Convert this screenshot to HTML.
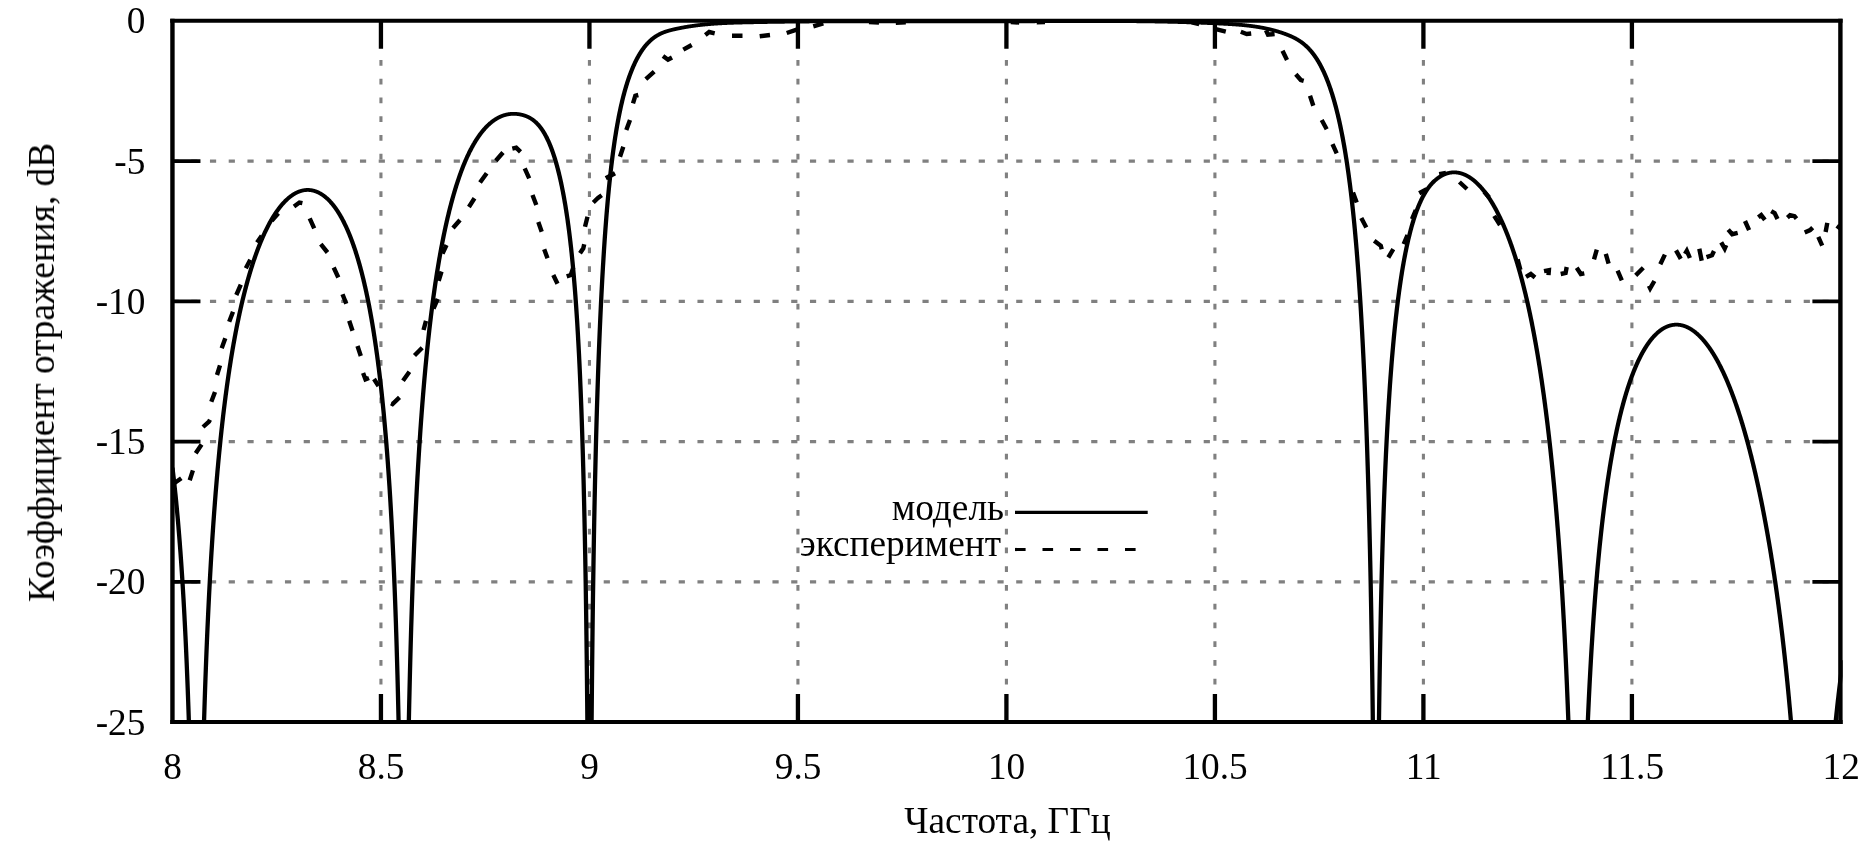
<!DOCTYPE html>
<html><head><meta charset="utf-8"><title>chart</title>
<style>html,body{margin:0;padding:0;background:#fff;overflow:hidden}body{width:1872px;height:858px;font-family:"Liberation Serif",serif}</style>
</head><body>
<svg width="1872" height="858" viewBox="0 0 1872 858" style="display:block">
<rect width="1872" height="858" fill="#fff"/>
<defs><clipPath id="c"><rect x="172.45" y="20.85" width="1670.15" height="701.25"/></clipPath></defs>
<path d="M380.94 722.10 V20.85 M589.44 722.10 V20.85 M797.93 722.10 V20.85 M1006.42 722.10 V20.85 M1214.92 722.10 V20.85 M1423.41 722.10 V20.85 M1631.91 722.10 V20.85" fill="none" stroke="#808080" stroke-width="3.1" stroke-dasharray="5.9 12.85"/>
<path d="M172.45 161.10 H1840.40 M172.45 301.35 H1840.40 M172.45 441.60 H1840.40 M172.45 581.85 H1840.40" fill="none" stroke="#808080" stroke-width="3.3" stroke-dasharray="6.2 12.55"/>
<path d="M170.25 20.85 H1842.60 M170.25 722.10 H1842.60" fill="none" stroke="#000" stroke-width="4.00"/>
<path d="M172.45 18.85 V724.10 M1840.40 18.85 V724.10" fill="none" stroke="#000" stroke-width="4.40"/>
<path d="M380.94 722.10 v-28.00 M380.94 20.85 v28.00 M589.44 722.10 v-28.00 M589.44 20.85 v28.00 M797.93 722.10 v-28.00 M797.93 20.85 v28.00 M1006.42 722.10 v-28.00 M1006.42 20.85 v28.00 M1214.92 722.10 v-28.00 M1214.92 20.85 v28.00 M1423.41 722.10 v-28.00 M1423.41 20.85 v28.00 M1631.91 722.10 v-28.00 M1631.91 20.85 v28.00" fill="none" stroke="#000" stroke-width="4.3"/>
<path d="M172.45 161.10 h28.00 M1840.40 161.10 h-28.00 M172.45 301.35 h28.00 M1840.40 301.35 h-28.00 M172.45 441.60 h28.00 M1840.40 441.60 h-28.00 M172.45 581.85 h28.00 M1840.40 581.85 h-28.00" fill="none" stroke="#000" stroke-width="3.8"/>
<g clip-path="url(#c)"><g transform="scale(1.1300 1)" fill="none" stroke="#000" stroke-width="3.80" stroke-linejoin="round">
<path d="M152.61 467.71 L152.83 469.76 L153.05 471.84 L153.27 473.95 L153.50 476.09 L153.72 478.27 L153.94 480.48 L154.16 482.72 L154.38 485.00 L154.60 487.31 L154.82 489.66 L155.04 492.05 L155.27 494.47 L155.49 496.93 L155.71 499.43 L155.93 501.97 L156.15 504.55 L156.37 507.17 L156.59 509.84 L156.81 512.54 L157.04 515.30 L157.26 518.09 L157.48 520.94 L157.70 523.83 L157.92 526.77 L158.14 529.76 L158.36 532.80 L158.58 535.89 L158.81 539.04 L159.03 542.25 L159.25 545.51 L159.47 548.83 L159.69 552.21 L159.91 555.65 L160.13 559.16 L160.35 562.73 L160.58 566.37 L160.80 570.08 L161.02 573.86 L161.24 577.72 L161.46 581.65 L161.68 585.66 L161.90 589.76 L162.12 593.94 L162.35 598.21 L162.57 602.57 L162.79 607.03 L163.01 611.58 L163.23 616.24 L163.45 621.00 L163.67 625.88 L163.89 630.87 L164.12 635.98 L164.34 641.22 L164.56 646.59 L164.78 652.10 L165.00 657.75 L165.22 663.55 L165.44 669.51 L165.66 675.64 L165.88 681.94 L166.11 688.43 L166.33 695.12 L166.55 702.01 L166.77 709.12 L166.99 716.47 L167.21 724.06 L167.43 731.92 L167.65 740.05 L167.88 748.49 L168.10 757.26"/>
<path d="M179.82 751.05 L180.04 741.93 L180.27 733.14 L180.49 724.65 L180.71 716.44 L180.93 708.50 L181.15 700.82 L181.37 693.36 L181.59 686.13 L181.81 679.11 L182.04 672.28 L182.26 665.64 L182.48 659.18 L182.70 652.89 L182.92 646.75 L183.14 640.77 L183.36 634.94 L183.58 629.24 L183.81 623.67 L184.03 618.23 L184.25 612.91 L184.47 607.71 L184.69 602.62 L184.91 597.63 L185.13 592.75 L185.35 587.97 L185.58 583.28 L185.80 578.69 L186.02 574.18 L186.24 569.76 L186.46 565.42 L186.68 561.15 L186.90 556.97 L187.12 552.86 L187.35 548.82 L187.57 544.86 L187.79 540.96 L188.01 537.12 L188.23 533.35 L188.45 529.64 L188.67 525.99 L188.89 522.40 L189.12 518.86 L189.34 515.38 L189.56 511.96 L189.78 508.58 L190.00 505.26 L190.22 501.98 L190.44 498.76 L190.66 495.58 L190.88 492.44 L191.11 489.35 L191.33 486.31 L191.55 483.31 L191.77 480.35 L191.99 477.43 L192.21 474.54 L192.43 471.70 L192.65 468.90 L192.88 466.13 L193.10 463.40 L193.32 460.71 L193.54 458.05 L193.76 455.42 L193.98 452.83 L194.20 450.27 L194.42 447.74 L194.65 445.25 L194.87 442.78 L195.09 440.35 L195.31 437.94 L195.53 435.57 L195.75 433.22 L195.97 430.90 L196.19 428.61 L196.42 426.35 L196.64 424.11 L196.86 421.90 L197.08 419.71 L197.30 417.55 L197.52 415.42 L197.74 413.31 L197.96 411.22 L198.19 409.16 L198.41 407.11 L198.63 405.09 L198.85 403.10 L199.07 401.12 L199.29 399.17 L199.51 397.23 L199.73 395.32 L199.96 393.43 L200.18 391.55 L200.40 389.70 L200.62 387.86 L200.84 386.05 L201.06 384.25 L201.28 382.47 L201.50 380.71 L201.73 378.97 L201.95 377.24 L202.17 375.53 L202.39 373.84 L202.61 372.16 L202.83 370.50 L203.05 368.85 L203.27 367.23 L203.50 365.61 L203.72 364.01 L203.94 362.43 L204.16 360.86 L204.38 359.31 L204.60 357.77 L204.82 356.25 L205.04 354.73 L205.27 353.24 L205.49 351.75 L205.71 350.28 L205.93 348.83 L206.15 347.38 L206.37 345.95 L206.59 344.53 L206.81 343.13 L207.04 341.73 L207.26 340.35 L207.48 338.98 L207.70 337.63 L207.92 336.28 L208.14 334.95 L208.36 333.62 L208.58 332.31 L208.81 331.01 L209.03 329.72 L209.25 328.44 L209.47 327.18 L209.69 325.92 L209.91 324.67 L210.13 323.44 L210.35 322.21 L210.58 320.99 L210.80 319.79 L211.02 318.59 L211.24 317.41 L211.46 316.23 L211.68 315.06 L211.90 313.90 L212.12 312.76 L212.35 311.62 L212.57 310.49 L212.79 309.37 L213.01 308.25 L213.23 307.15 L213.45 306.06 L213.67 304.97 L213.89 303.89 L214.12 302.83 L214.34 301.77 L214.56 300.71 L214.78 299.67 L215.00 298.63 L215.22 297.61 L215.44 296.59 L215.66 295.57 L215.88 294.57 L216.11 293.57 L216.33 292.59 L216.55 291.61 L216.77 290.63 L216.99 289.67 L217.21 288.71 L217.43 287.76 L217.65 286.81 L217.88 285.87 L218.10 284.94 L218.32 284.02 L218.54 283.11 L218.76 282.20 L218.98 281.30 L219.20 280.40 L219.42 279.51 L219.65 278.63 L219.87 277.75 L220.09 276.89 L220.31 276.02 L220.53 275.17 L220.75 274.32 L220.97 273.47 L221.19 272.64 L221.42 271.81 L221.64 270.98 L221.86 270.16 L222.08 269.35 L222.30 268.54 L222.52 267.74 L222.74 266.95 L222.96 266.16 L223.19 265.38 L223.41 264.60 L223.63 263.83 L223.85 263.07 L224.07 262.31 L224.29 261.55 L224.51 260.80 L224.73 260.06 L224.96 259.32 L225.18 258.59 L225.40 257.86 L225.62 257.14 L225.84 256.42 L226.06 255.71 L226.28 255.01 L226.50 254.31 L226.73 253.61 L226.95 252.92 L227.17 252.24 L227.39 251.56 L227.61 250.88 L227.83 250.21 L228.05 249.55 L228.27 248.89 L228.50 248.23 L228.72 247.58 L228.94 246.94 L229.16 246.29 L229.38 245.66 L229.60 245.03 L229.82 244.40 L230.04 243.78 L230.27 243.16 L230.49 242.55 L230.71 241.94 L230.93 241.34 L231.15 240.74 L231.37 240.14 L231.59 239.55 L231.81 238.97 L232.04 238.39 L232.26 237.81 L232.48 237.24 L232.70 236.67 L232.92 236.11 L233.14 235.55 L233.36 234.99 L233.58 234.44 L233.81 233.89 L234.03 233.35 L234.25 232.81 L234.47 232.28 L234.69 231.75 L234.91 231.22 L235.13 230.70 L235.35 230.18 L235.58 229.67 L235.80 229.16 L236.02 228.65 L236.24 228.15 L236.46 227.65 L236.68 227.16 L236.90 226.67 L237.12 226.18 L237.35 225.70 L237.57 225.22 L237.79 224.75 L238.01 224.28 L238.23 223.81 L238.45 223.35 L238.67 222.89 L238.89 222.43 L239.12 221.98 L239.34 221.53 L239.56 221.09 L239.78 220.64 L240.00 220.21 L240.22 219.77 L240.44 219.34 L240.66 218.92 L240.88 218.49 L241.11 218.07 L241.33 217.66 L241.55 217.25 L241.77 216.84 L241.99 216.43 L242.21 216.03 L242.43 215.63 L242.65 215.24 L242.88 214.85 L243.10 214.46 L243.32 214.08 L243.54 213.69 L243.76 213.32 L243.98 212.94 L244.20 212.57 L244.42 212.20 L244.65 211.84 L244.87 211.48 L245.09 211.12 L245.31 210.77 L245.53 210.42 L245.75 210.07 L245.97 209.73 L246.19 209.38 L246.42 209.05 L246.64 208.71 L246.86 208.38 L247.08 208.05 L247.30 207.73 L247.52 207.41 L247.74 207.09 L247.96 206.77 L248.19 206.46 L248.41 206.15 L248.63 205.85 L248.85 205.54 L249.07 205.24 L249.29 204.95 L249.51 204.65 L249.73 204.36 L249.96 204.08 L250.18 203.79 L250.40 203.51 L250.62 203.23 L250.84 202.96 L251.06 202.69 L251.28 202.42 L251.50 202.15 L251.73 201.89 L251.95 201.63 L252.17 201.37 L252.39 201.12 L252.61 200.87 L252.83 200.62 L253.05 200.38 L253.27 200.14 L253.50 199.90 L253.72 199.66 L253.94 199.43 L254.16 199.20 L254.38 198.97 L254.60 198.75 L254.82 198.53 L255.04 198.31 L255.27 198.09 L255.49 197.88 L255.71 197.67 L255.93 197.46 L256.15 197.26 L256.37 197.06 L256.59 196.86 L256.81 196.67 L257.04 196.47 L257.26 196.28 L257.48 196.10 L257.70 195.91 L257.92 195.73 L258.14 195.56 L258.36 195.38 L258.58 195.21 L258.81 195.04 L259.03 194.87 L259.25 194.71 L259.47 194.55 L259.69 194.39 L259.91 194.23 L260.13 194.08 L260.35 193.93 L260.58 193.79 L260.80 193.64 L261.02 193.50 L261.24 193.36 L261.46 193.23 L261.68 193.09 L261.90 192.96 L262.12 192.84 L262.35 192.71 L262.57 192.59 L262.79 192.47 L263.01 192.35 L263.23 192.24 L263.45 192.13 L263.67 192.02 L263.89 191.92 L264.12 191.81 L264.34 191.71 L264.56 191.62 L264.78 191.52 L265.00 191.43 L265.22 191.34 L265.44 191.26 L265.66 191.17 L265.88 191.09 L266.11 191.01 L266.33 190.94 L266.55 190.87 L266.77 190.80 L266.99 190.73 L267.21 190.67 L267.43 190.60 L267.65 190.55 L267.88 190.49 L268.10 190.44 L268.32 190.39 L268.54 190.34 L268.76 190.29 L268.98 190.25 L269.20 190.21 L269.42 190.17 L269.65 190.14 L269.87 190.11 L270.09 190.08 L270.31 190.06 L270.53 190.03 L270.75 190.01 L270.97 189.99 L271.19 189.98 L271.42 189.97 L271.64 189.96 L271.86 189.95 L272.08 189.95 L272.30 189.95 L272.52 189.95 L272.74 189.95 L272.96 189.96 L273.19 189.97 L273.41 189.98 L273.63 190.00 L273.85 190.01 L274.07 190.04 L274.29 190.06 L274.51 190.09 L274.73 190.11 L274.96 190.15 L275.18 190.18 L275.40 190.22 L275.62 190.26 L275.84 190.30 L276.06 190.35 L276.28 190.40 L276.50 190.45 L276.73 190.50 L276.95 190.56 L277.17 190.62 L277.39 190.68 L277.61 190.75 L277.83 190.81 L278.05 190.89 L278.27 190.96 L278.50 191.04 L278.72 191.12 L278.94 191.20 L279.16 191.28 L279.38 191.37 L279.60 191.46 L279.82 191.55 L280.04 191.65 L280.27 191.75 L280.49 191.85 L280.71 191.96 L280.93 192.07 L281.15 192.18 L281.37 192.29 L281.59 192.41 L281.81 192.53 L282.04 192.65 L282.26 192.77 L282.48 192.90 L282.70 193.03 L282.92 193.17 L283.14 193.30 L283.36 193.44 L283.58 193.59 L283.81 193.73 L284.03 193.88 L284.25 194.03 L284.47 194.19 L284.69 194.35 L284.91 194.51 L285.13 194.67 L285.35 194.84 L285.58 195.01 L285.80 195.18 L286.02 195.36 L286.24 195.54 L286.46 195.72 L286.68 195.91 L286.90 196.10 L287.12 196.29 L287.35 196.48 L287.57 196.68 L287.79 196.88 L288.01 197.09 L288.23 197.30 L288.45 197.51 L288.67 197.72 L288.89 197.94 L289.12 198.16 L289.34 198.38 L289.56 198.61 L289.78 198.84 L290.00 199.08 L290.22 199.32 L290.44 199.56 L290.66 199.80 L290.88 200.05 L291.11 200.30 L291.33 200.56 L291.55 200.81 L291.77 201.07 L291.99 201.34 L292.21 201.61 L292.43 201.88 L292.65 202.16 L292.88 202.44 L293.10 202.72 L293.32 203.01 L293.54 203.30 L293.76 203.59 L293.98 203.89 L294.20 204.19 L294.42 204.49 L294.65 204.80 L294.87 205.11 L295.09 205.43 L295.31 205.75 L295.53 206.07 L295.75 206.40 L295.97 206.73 L296.19 207.06 L296.42 207.40 L296.64 207.75 L296.86 208.09 L297.08 208.44 L297.30 208.80 L297.52 209.16 L297.74 209.52 L297.96 209.89 L298.19 210.26 L298.41 210.63 L298.63 211.01 L298.85 211.39 L299.07 211.78 L299.29 212.17 L299.51 212.57 L299.73 212.97 L299.96 213.37 L300.18 213.78 L300.40 214.19 L300.62 214.61 L300.84 215.03 L301.06 215.45 L301.28 215.88 L301.50 216.32 L301.73 216.76 L301.95 217.20 L302.17 217.65 L302.39 218.10 L302.61 218.56 L302.83 219.02 L303.05 219.49 L303.27 219.96 L303.50 220.43 L303.72 220.91 L303.94 221.40 L304.16 221.89 L304.38 222.38 L304.60 222.88 L304.82 223.39 L305.04 223.90 L305.27 224.41 L305.49 224.93 L305.71 225.46 L305.93 225.99 L306.15 226.52 L306.37 227.06 L306.59 227.61 L306.81 228.16 L307.04 228.71 L307.26 229.27 L307.48 229.84 L307.70 230.41 L307.92 230.99 L308.14 231.57 L308.36 232.16 L308.58 232.76 L308.81 233.36 L309.03 233.96 L309.25 234.57 L309.47 235.19 L309.69 235.81 L309.91 236.44 L310.13 237.08 L310.35 237.72 L310.58 238.36 L310.80 239.02 L311.02 239.67 L311.24 240.34 L311.46 241.01 L311.68 241.69 L311.90 242.37 L312.12 243.06 L312.35 243.76 L312.57 244.46 L312.79 245.17 L313.01 245.88 L313.23 246.61 L313.45 247.34 L313.67 248.07 L313.89 248.82 L314.12 249.57 L314.34 250.32 L314.56 251.09 L314.78 251.86 L315.00 252.64 L315.22 253.42 L315.44 254.21 L315.66 255.01 L315.88 255.82 L316.11 256.64 L316.33 257.46 L316.55 258.29 L316.77 259.13 L316.99 259.98 L317.21 260.83 L317.43 261.69 L317.65 262.56 L317.88 263.44 L318.10 264.33 L318.32 265.22 L318.54 266.12 L318.76 267.04 L318.98 267.96 L319.20 268.88 L319.42 269.82 L319.65 270.77 L319.87 271.72 L320.09 272.69 L320.31 273.66 L320.53 274.65 L320.75 275.64 L320.97 276.64 L321.19 277.65 L321.42 278.67 L321.64 279.71 L321.86 280.75 L322.08 281.80 L322.30 282.86 L322.52 283.93 L322.74 285.01 L322.96 286.11 L323.19 287.21 L323.41 288.32 L323.63 289.45 L323.85 290.58 L324.07 291.73 L324.29 292.89 L324.51 294.06 L324.73 295.24 L324.96 296.44 L325.18 297.64 L325.40 298.86 L325.62 300.09 L325.84 301.33 L326.06 302.59 L326.28 303.86 L326.50 305.14 L326.73 306.43 L326.95 307.74 L327.17 309.06 L327.39 310.40 L327.61 311.74 L327.83 313.11 L328.05 314.48 L328.27 315.88 L328.50 317.28 L328.72 318.70 L328.94 320.14 L329.16 321.59 L329.38 323.06 L329.60 324.54 L329.82 326.04 L330.04 327.56 L330.27 329.09 L330.49 330.64 L330.71 332.21 L330.93 333.79 L331.15 335.40 L331.37 337.02 L331.59 338.65 L331.81 340.31 L332.04 341.99 L332.26 343.68 L332.48 345.40 L332.70 347.13 L332.92 348.89 L333.14 350.67 L333.36 352.46 L333.58 354.28 L333.81 356.12 L334.03 357.99 L334.25 359.87 L334.47 361.78 L334.69 363.71 L334.91 365.67 L335.13 367.65 L335.35 369.66 L335.58 371.69 L335.80 373.74 L336.02 375.83 L336.24 377.94 L336.46 380.08 L336.68 382.24 L336.90 384.44 L337.12 386.66 L337.35 388.92 L337.57 391.21 L337.79 393.52 L338.01 395.87 L338.23 398.25 L338.45 400.67 L338.67 403.12 L338.89 405.61 L339.12 408.13 L339.34 410.69 L339.56 413.28 L339.78 415.92 L340.00 418.59 L340.22 421.31 L340.44 424.07 L340.66 426.87 L340.88 429.71 L341.11 432.60 L341.33 435.54 L341.55 438.52 L341.77 441.56 L341.99 444.64 L342.21 447.78 L342.43 450.97 L342.65 454.22 L342.88 457.52 L343.10 460.88 L343.32 464.30 L343.54 467.79 L343.76 471.33 L343.98 474.95 L344.20 478.63 L344.42 482.39 L344.65 486.22 L344.87 490.12 L345.09 494.11 L345.31 498.18 L345.53 502.33 L345.75 506.57 L345.97 510.90 L346.19 515.33 L346.42 519.85 L346.64 524.48 L346.86 529.22 L347.08 534.07 L347.30 539.03 L347.52 544.12 L347.74 549.34 L347.96 554.69 L348.19 560.18 L348.41 565.82 L348.63 571.61 L348.85 577.57 L349.07 583.69 L349.29 589.99 L349.51 596.48 L349.73 603.17 L349.96 610.07 L350.18 617.19 L350.40 624.55 L350.62 632.16 L350.84 640.04 L351.06 648.21 L351.28 656.69 L351.50 665.49 L351.73 674.65 L351.95 684.19 L352.17 694.15 L352.39 704.56 L352.61 715.46 L352.83 726.90 L353.05 738.94 L353.27 751.63"/>
<path d="M361.24 754.70 L361.46 741.17 L361.68 728.34 L361.90 716.15 L362.12 704.53 L362.35 693.44 L362.57 682.82 L362.79 672.65 L363.01 662.87 L363.23 653.48 L363.45 644.43 L363.67 635.70 L363.89 627.27 L364.12 619.12 L364.34 611.24 L364.56 603.60 L364.78 596.19 L365.00 589.00 L365.22 582.02 L365.44 575.24 L365.66 568.64 L365.88 562.21 L366.11 555.95 L366.33 549.85 L366.55 543.90 L366.77 538.09 L366.99 532.42 L367.21 526.89 L367.43 521.47 L367.65 516.18 L367.88 511.01 L368.10 505.94 L368.32 500.98 L368.54 496.12 L368.76 491.37 L368.98 486.70 L369.20 482.13 L369.42 477.64 L369.65 473.24 L369.87 468.93 L370.09 464.69 L370.31 460.53 L370.53 456.44 L370.75 452.42 L370.97 448.48 L371.19 444.60 L371.42 440.79 L371.64 437.04 L371.86 433.35 L372.08 429.72 L372.30 426.15 L372.52 422.64 L372.74 419.18 L372.96 415.78 L373.19 412.43 L373.41 409.13 L373.63 405.88 L373.85 402.67 L374.07 399.52 L374.29 396.41 L374.51 393.34 L374.73 390.32 L374.96 387.34 L375.18 384.41 L375.40 381.51 L375.62 378.66 L375.84 375.84 L376.06 373.06 L376.28 370.32 L376.50 367.62 L376.73 364.95 L376.95 362.32 L377.17 359.72 L377.39 357.16 L377.61 354.63 L377.83 352.13 L378.05 349.66 L378.27 347.23 L378.50 344.82 L378.72 342.45 L378.94 340.11 L379.16 337.79 L379.38 335.50 L379.60 333.24 L379.82 331.01 L380.04 328.81 L380.27 326.63 L380.49 324.48 L380.71 322.36 L380.93 320.26 L381.15 318.18 L381.37 316.13 L381.59 314.10 L381.81 312.09 L382.04 310.11 L382.26 308.15 L382.48 306.22 L382.70 304.30 L382.92 302.40 L383.14 300.53 L383.36 298.68 L383.58 296.84 L383.81 295.03 L384.03 293.24 L384.25 291.46 L384.47 289.70 L384.69 287.97 L384.91 286.25 L385.13 284.55 L385.35 282.86 L385.58 281.19 L385.80 279.54 L386.02 277.91 L386.24 276.30 L386.46 274.70 L386.68 273.11 L386.90 271.54 L387.12 269.99 L387.35 268.45 L387.57 266.93 L387.79 265.42 L388.01 263.93 L388.23 262.45 L388.45 260.99 L388.67 259.54 L388.89 258.10 L389.12 256.68 L389.34 255.27 L389.56 253.87 L389.78 252.49 L390.00 251.12 L390.22 249.77 L390.44 248.42 L390.66 247.09 L390.88 245.77 L391.11 244.46 L391.33 243.17 L391.55 241.88 L391.77 240.61 L391.99 239.35 L392.21 238.10 L392.43 236.86 L392.65 235.64 L392.88 234.42 L393.10 233.22 L393.32 232.02 L393.54 230.84 L393.76 229.67 L393.98 228.50 L394.20 227.35 L394.42 226.21 L394.65 225.08 L394.87 223.95 L395.09 222.84 L395.31 221.74 L395.53 220.64 L395.75 219.56 L395.97 218.48 L396.19 217.42 L396.42 216.36 L396.64 215.32 L396.86 214.28 L397.08 213.25 L397.30 212.23 L397.52 211.22 L397.74 210.21 L397.96 209.22 L398.19 208.23 L398.41 207.25 L398.63 206.28 L398.85 205.32 L399.07 204.37 L399.29 203.42 L399.51 202.49 L399.73 201.56 L399.96 200.63 L400.18 199.72 L400.40 198.81 L400.62 197.91 L400.84 197.02 L401.06 196.14 L401.28 195.26 L401.50 194.39 L401.73 193.53 L401.95 192.68 L402.17 191.83 L402.39 190.99 L402.61 190.15 L402.83 189.33 L403.05 188.51 L403.27 187.69 L403.50 186.89 L403.72 186.09 L403.94 185.30 L404.16 184.51 L404.38 183.73 L404.60 182.96 L404.82 182.19 L405.04 181.43 L405.27 180.68 L405.49 179.93 L405.71 179.19 L405.93 178.45 L406.15 177.72 L406.37 177.00 L406.59 176.28 L406.81 175.57 L407.04 174.87 L407.26 174.17 L407.48 173.47 L407.70 172.79 L407.92 172.10 L408.14 171.43 L408.36 170.76 L408.58 170.09 L408.81 169.43 L409.03 168.78 L409.25 168.13 L409.47 167.49 L409.69 166.85 L409.91 166.22 L410.13 165.60 L410.35 164.98 L410.58 164.36 L410.80 163.75 L411.02 163.15 L411.24 162.55 L411.46 161.95 L411.68 161.36 L411.90 160.78 L412.12 160.20 L412.35 159.63 L412.57 159.06 L412.79 158.49 L413.01 157.93 L413.23 157.38 L413.45 156.83 L413.67 156.29 L413.89 155.75 L414.12 155.21 L414.34 154.68 L414.56 154.16 L414.78 153.64 L415.00 153.12 L415.22 152.61 L415.44 152.10 L415.66 151.60 L415.88 151.10 L416.11 150.61 L416.33 150.12 L416.55 149.63 L416.77 149.15 L416.99 148.67 L417.21 148.20 L417.43 147.74 L417.65 147.27 L417.88 146.81 L418.10 146.36 L418.32 145.91 L418.54 145.46 L418.76 145.02 L418.98 144.58 L419.20 144.14 L419.42 143.71 L419.65 143.29 L419.87 142.86 L420.09 142.44 L420.31 142.03 L420.53 141.62 L420.75 141.21 L420.97 140.81 L421.19 140.41 L421.42 140.01 L421.64 139.62 L421.86 139.23 L422.08 138.85 L422.30 138.47 L422.52 138.09 L422.74 137.72 L422.96 137.35 L423.19 136.98 L423.41 136.62 L423.63 136.26 L423.85 135.90 L424.07 135.55 L424.29 135.20 L424.51 134.86 L424.73 134.52 L424.96 134.18 L425.18 133.84 L425.40 133.51 L425.62 133.18 L425.84 132.86 L426.06 132.54 L426.28 132.22 L426.50 131.90 L426.73 131.59 L426.95 131.28 L427.17 130.98 L427.39 130.68 L427.61 130.38 L427.83 130.08 L428.05 129.79 L428.27 129.50 L428.50 129.21 L428.72 128.93 L428.94 128.65 L429.16 128.37 L429.38 128.10 L429.60 127.83 L429.82 127.56 L430.04 127.30 L430.27 127.04 L430.49 126.78 L430.71 126.52 L430.93 126.27 L431.15 126.02 L431.37 125.77 L431.59 125.53 L431.81 125.29 L432.04 125.05 L432.26 124.81 L432.48 124.58 L432.70 124.35 L432.92 124.13 L433.14 123.90 L433.36 123.68 L433.58 123.46 L433.81 123.25 L434.03 123.03 L434.25 122.82 L434.47 122.62 L434.69 122.41 L434.91 122.21 L435.13 122.01 L435.35 121.81 L435.58 121.62 L435.80 121.43 L436.02 121.24 L436.24 121.05 L436.46 120.87 L436.68 120.69 L436.90 120.51 L437.12 120.34 L437.35 120.16 L437.57 119.99 L437.79 119.83 L438.01 119.66 L438.23 119.50 L438.45 119.34 L438.67 119.18 L438.89 119.03 L439.12 118.87 L439.34 118.72 L439.56 118.57 L439.78 118.43 L440.00 118.29 L440.22 118.15 L440.44 118.01 L440.66 117.87 L440.88 117.74 L441.11 117.61 L441.33 117.48 L441.55 117.35 L441.77 117.23 L441.99 117.11 L442.21 116.99 L442.43 116.87 L442.65 116.76 L442.88 116.65 L443.10 116.54 L443.32 116.43 L443.54 116.32 L443.76 116.22 L443.98 116.12 L444.20 116.02 L444.42 115.93 L444.65 115.83 L444.87 115.74 L445.09 115.65 L445.31 115.57 L445.53 115.48 L445.75 115.40 L445.97 115.32 L446.19 115.24 L446.42 115.16 L446.64 115.09 L446.86 115.02 L447.08 114.95 L447.30 114.88 L447.52 114.81 L447.74 114.75 L447.96 114.69 L448.19 114.63 L448.41 114.58 L448.63 114.52 L448.85 114.47 L449.07 114.42 L449.29 114.37 L449.51 114.32 L449.73 114.28 L449.96 114.24 L450.18 114.20 L450.40 114.16 L450.62 114.12 L450.84 114.09 L451.06 114.06 L451.28 114.03 L451.50 114.00 L451.73 113.97 L451.95 113.95 L452.17 113.93 L452.39 113.91 L452.61 113.89 L452.83 113.87 L453.05 113.86 L453.27 113.85 L453.50 113.84 L453.72 113.83 L453.94 113.82 L454.16 113.82 L454.38 113.82 L454.60 113.82 L454.82 113.82 L455.04 113.82 L455.27 113.83 L455.49 113.83 L455.71 113.84 L455.93 113.85 L456.15 113.87 L456.37 113.88 L456.59 113.90 L456.81 113.92 L457.04 113.94 L457.26 113.96 L457.48 113.98 L457.70 114.01 L457.92 114.04 L458.14 114.07 L458.36 114.10 L458.58 114.13 L458.81 114.17 L459.03 114.20 L459.25 114.24 L459.47 114.28 L459.69 114.33 L459.91 114.37 L460.13 114.42 L460.35 114.46 L460.58 114.51 L460.80 114.57 L461.02 114.62 L461.24 114.67 L461.46 114.73 L461.68 114.79 L461.90 114.85 L462.12 114.91 L462.35 114.98 L462.57 115.04 L462.79 115.11 L463.01 115.18 L463.23 115.25 L463.45 115.32 L463.67 115.40 L463.89 115.48 L464.12 115.56 L464.34 115.64 L464.56 115.72 L464.78 115.81 L465.00 115.90 L465.22 115.99 L465.44 116.08 L465.66 116.18 L465.88 116.28 L466.11 116.38 L466.33 116.48 L466.55 116.59 L466.77 116.70 L466.99 116.81 L467.21 116.93 L467.43 117.04 L467.65 117.17 L467.88 117.29 L468.10 117.42 L468.32 117.55 L468.54 117.68 L468.76 117.82 L468.98 117.95 L469.20 118.10 L469.42 118.24 L469.65 118.39 L469.87 118.55 L470.09 118.70 L470.31 118.86 L470.53 119.03 L470.75 119.19 L470.97 119.36 L471.19 119.54 L471.42 119.72 L471.64 119.90 L471.86 120.09 L472.08 120.28 L472.30 120.47 L472.52 120.67 L472.74 120.87 L472.96 121.08 L473.19 121.29 L473.41 121.50 L473.63 121.72 L473.85 121.95 L474.07 122.18 L474.29 122.41 L474.51 122.65 L474.73 122.89 L474.96 123.13 L475.18 123.39 L475.40 123.64 L475.62 123.90 L475.84 124.17 L476.06 124.44 L476.28 124.72 L476.50 125.00 L476.73 125.29 L476.95 125.58 L477.17 125.88 L477.39 126.18 L477.61 126.49 L477.83 126.80 L478.05 127.12 L478.27 127.45 L478.50 127.78 L478.72 128.11 L478.94 128.46 L479.16 128.81 L479.38 129.16 L479.60 129.52 L479.82 129.89 L480.04 130.26 L480.27 130.64 L480.49 131.03 L480.71 131.42 L480.93 131.82 L481.15 132.22 L481.37 132.64 L481.59 133.05 L481.81 133.48 L482.04 133.91 L482.26 134.35 L482.48 134.80 L482.70 135.25 L482.92 135.72 L483.14 136.19 L483.36 136.66 L483.58 137.15 L483.81 137.64 L484.03 138.14 L484.25 138.65 L484.47 139.16 L484.69 139.68 L484.91 140.22 L485.13 140.76 L485.35 141.30 L485.58 141.86 L485.80 142.43 L486.02 143.00 L486.24 143.58 L486.46 144.17 L486.68 144.78 L486.90 145.39 L487.12 146.00 L487.35 146.63 L487.57 147.27 L487.79 147.92 L488.01 148.58 L488.23 149.24 L488.45 149.92 L488.67 150.61 L488.89 151.30 L489.12 152.01 L489.34 152.73 L489.56 153.46 L489.78 154.20 L490.00 154.95 L490.22 155.71 L490.44 156.48 L490.66 157.27 L490.88 158.06 L491.11 158.87 L491.33 159.69 L491.55 160.52 L491.77 161.37 L491.99 162.22 L492.21 163.09 L492.43 163.97 L492.65 164.87 L492.88 165.77 L493.10 166.69 L493.32 167.63 L493.54 168.57 L493.76 169.54 L493.98 170.51 L494.20 171.50 L494.42 172.51 L494.65 173.53 L494.87 174.56 L495.09 175.61 L495.31 176.67 L495.53 177.75 L495.75 178.85 L495.97 179.96 L496.19 181.09 L496.42 182.24 L496.64 183.40 L496.86 184.58 L497.08 185.78 L497.30 186.99 L497.52 188.22 L497.74 189.48 L497.96 190.75 L498.19 192.03 L498.41 193.34 L498.63 194.67 L498.85 196.02 L499.07 197.39 L499.29 198.78 L499.51 200.20 L499.73 201.63 L499.96 203.09 L500.18 204.58 L500.40 206.08 L500.62 207.62 L500.84 209.17 L501.06 210.76 L501.28 212.37 L501.50 214.01 L501.73 215.68 L501.95 217.38 L502.17 219.10 L502.39 220.86 L502.61 222.65 L502.83 224.47 L503.05 226.33 L503.27 228.22 L503.50 230.14 L503.72 232.10 L503.94 234.10 L504.16 236.14 L504.38 238.21 L504.60 240.33 L504.82 242.49 L505.04 244.69 L505.27 246.93 L505.49 249.22 L505.71 251.56 L505.93 253.94 L506.15 256.38 L506.37 258.86 L506.59 261.40 L506.81 264.00 L507.04 266.64 L507.26 269.35 L507.48 272.12 L507.70 274.95 L507.92 277.84 L508.14 280.80 L508.36 283.83 L508.58 286.93 L508.81 290.11 L509.03 293.36 L509.25 296.69 L509.47 300.10 L509.69 303.60 L509.91 307.18 L510.13 310.86 L510.35 314.64 L510.58 318.51 L510.80 322.49 L511.02 326.58 L511.24 330.79 L511.46 335.11 L511.68 339.55 L511.90 344.13 L512.12 348.85 L512.35 353.70 L512.57 358.71 L512.79 363.87 L513.01 369.20 L513.23 374.70 L513.45 380.38 L513.67 386.24 L513.89 392.30 L514.12 398.57 L514.34 405.07 L514.56 411.79 L514.78 418.76 L515.00 425.99 L515.22 433.50 L515.44 441.31 L515.66 449.43 L515.88 457.89 L516.11 466.72 L516.33 475.94 L516.55 485.58 L516.77 495.69 L516.99 506.30 L517.21 517.47 L517.43 529.23 L517.65 541.67 L517.88 554.85 L518.10 568.85 L518.32 583.79 L518.54 599.79 L518.76 617.00 L518.98 635.61 L519.20 655.86 L519.42 678.04 L519.65 702.56 L519.87 729.94"/>
<path d="M523.41 740.33 L523.63 710.43 L523.85 683.76 L524.07 659.68 L524.29 637.73 L524.51 617.57 L524.73 598.92 L524.96 581.58 L525.18 565.37 L525.40 550.16 L525.62 535.83 L525.84 522.28 L526.06 509.44 L526.28 497.24 L526.50 485.61 L526.73 474.51 L526.95 463.89 L527.17 453.72 L527.39 443.96 L527.61 434.58 L527.83 425.55 L528.05 416.85 L528.27 408.46 L528.50 400.36 L528.72 392.53 L528.94 384.95 L529.16 377.62 L529.38 370.51 L529.60 363.62 L529.82 356.93 L530.04 350.44 L530.27 344.13 L530.49 337.99 L530.71 332.03 L530.93 326.22 L531.15 320.57 L531.37 315.07 L531.59 309.71 L531.81 304.48 L532.04 299.38 L532.26 294.41 L532.48 289.56 L532.70 284.83 L532.92 280.21 L533.14 275.69 L533.36 271.29 L533.58 266.98 L533.81 262.78 L534.03 258.67 L534.25 254.65 L534.47 250.72 L534.69 246.88 L534.91 243.13 L535.13 239.46 L535.35 235.87 L535.58 232.36 L535.80 228.92 L536.02 225.56 L536.24 222.28 L536.46 219.06 L536.68 215.92 L536.90 212.84 L537.12 209.83 L537.35 206.88 L537.57 204.00 L537.79 201.17 L538.01 198.40 L538.23 195.69 L538.45 193.04 L538.67 190.43 L538.89 187.88 L539.12 185.38 L539.34 182.92 L539.56 180.52 L539.78 178.16 L540.00 175.84 L540.22 173.57 L540.44 171.34 L540.66 169.15 L540.88 167.00 L541.11 164.89 L541.33 162.82 L541.55 160.78 L541.77 158.78 L541.99 156.82 L542.21 154.89 L542.43 153.00 L542.65 151.13 L542.88 149.30 L543.10 147.51 L543.32 145.74 L543.54 144.00 L543.76 142.29 L543.98 140.61 L544.20 138.96 L544.42 137.33 L544.65 135.74 L544.87 134.16 L545.09 132.62 L545.31 131.10 L545.53 129.60 L545.75 128.13 L545.97 126.68 L546.19 125.26 L546.42 123.85 L546.64 122.47 L546.86 121.11 L547.08 119.78 L547.30 118.46 L547.52 117.16 L547.74 115.89 L547.96 114.63 L548.19 113.39 L548.41 112.17 L548.63 110.97 L548.85 109.79 L549.07 108.63 L549.29 107.48 L549.51 106.35 L549.73 105.24 L549.96 104.14 L550.18 103.06 L550.40 102.00 L550.62 100.95 L550.84 99.92 L551.06 98.90 L551.28 97.90 L551.50 96.91 L551.73 95.93 L551.95 94.97 L552.17 94.02 L552.39 93.09 L552.61 92.17 L552.83 91.26 L553.05 90.37 L553.27 89.49 L553.50 88.62 L553.72 87.76 L553.94 86.91 L554.16 86.08 L554.38 85.26 L554.60 84.45 L554.82 83.65 L555.04 82.86 L555.27 82.08 L555.49 81.31 L555.71 80.55 L555.93 79.80 L556.15 79.07 L556.37 78.34 L556.59 77.62 L556.81 76.91 L557.04 76.21 L557.26 75.52 L557.48 74.83 L557.70 74.16 L557.92 73.49 L558.14 72.84 L558.36 72.19 L558.58 71.55 L558.81 70.91 L559.03 70.29 L559.25 69.67 L559.47 69.06 L559.69 68.46 L559.91 67.86 L560.13 67.27 L560.35 66.69 L560.58 66.12 L560.80 65.56 L561.02 65.00 L561.24 64.44 L561.46 63.90 L561.68 63.36 L561.90 62.83 L562.12 62.31 L562.35 61.79 L562.57 61.28 L562.79 60.77 L563.01 60.27 L563.23 59.78 L563.45 59.29 L563.67 58.81 L563.89 58.34 L564.12 57.87 L564.34 57.41 L564.56 56.95 L564.78 56.50 L565.00 56.06 L565.22 55.62 L565.44 55.19 L565.66 54.76 L565.88 54.34 L566.11 53.92 L566.33 53.51 L566.55 53.11 L566.77 52.71 L566.99 52.31 L567.21 51.92 L567.43 51.54 L567.65 51.16 L567.88 50.79 L568.10 50.42 L568.32 50.05 L568.54 49.69 L568.76 49.34 L568.98 48.99 L569.20 48.64 L569.42 48.30 L569.65 47.97 L569.87 47.64 L570.09 47.31 L570.31 46.99 L570.53 46.67 L570.75 46.36 L570.97 46.05 L571.19 45.74 L571.42 45.44 L571.64 45.15 L571.86 44.85 L572.08 44.57 L572.30 44.28 L572.52 44.00 L572.74 43.73 L572.96 43.45 L573.19 43.19 L573.41 42.92 L573.63 42.66 L573.85 42.41 L574.07 42.15 L574.29 41.90 L574.51 41.66 L574.73 41.42 L574.96 41.18 L575.18 40.94 L575.40 40.71 L575.62 40.48 L575.84 40.26 L576.06 40.04 L576.28 39.82 L576.50 39.60 L576.73 39.39 L576.95 39.18 L577.17 38.98 L577.39 38.78 L577.61 38.58 L577.83 38.38 L578.05 38.19 L578.27 38.00 L578.50 37.81 L578.72 37.63 L578.94 37.45 L579.16 37.27 L579.38 37.09 L579.60 36.92 L579.82 36.75 L580.04 36.58 L580.27 36.42 L580.49 36.26 L580.71 36.10 L580.93 35.94 L581.15 35.78 L581.37 35.63 L581.59 35.48 L581.81 35.34 L582.04 35.19 L582.26 35.05 L582.48 34.91 L582.70 34.77 L582.92 34.64 L583.14 34.50 L583.36 34.37 L583.58 34.24 L583.81 34.12 L584.03 33.99 L584.25 33.87 L584.47 33.75 L584.69 33.63 L584.91 33.51 L585.13 33.40 L585.35 33.28 L585.58 33.17 L585.80 33.06 L586.02 32.96 L586.24 32.85 L586.46 32.75 L586.68 32.64 L586.90 32.54 L587.12 32.44 L587.35 32.35 L587.57 32.25 L587.79 32.16 L588.01 32.06 L588.23 31.97 L588.45 31.88 L588.67 31.79 L588.89 31.71 L589.12 31.62 L589.34 31.54 L589.56 31.45 L589.78 31.37 L590.00 31.29 L590.22 31.21 L590.44 31.14 L590.66 31.06 L590.88 30.98 L591.11 30.91 L591.33 30.83 L591.55 30.76 L591.77 30.69 L591.99 30.62 L592.21 30.55 L592.43 30.48 L592.65 30.41 L592.88 30.35 L593.10 30.28 L593.32 30.21 L593.54 30.15 L593.76 30.08 L593.98 30.02 L594.20 29.96 L594.42 29.90 L594.65 29.84 L594.87 29.78 L595.09 29.71 L595.31 29.66 L595.53 29.60 L595.75 29.54 L595.97 29.48 L596.19 29.42 L596.42 29.36 L596.64 29.31 L596.86 29.25 L597.08 29.19 L597.30 29.14 L597.52 29.08 L597.74 29.03 L597.96 28.97 L598.19 28.92 L598.41 28.86 L598.63 28.81 L598.85 28.75 L599.07 28.70 L599.29 28.65 L599.51 28.59 L599.73 28.54 L599.96 28.49 L600.18 28.44 L600.40 28.39 L600.62 28.33 L600.84 28.28 L601.06 28.23 L601.28 28.18 L601.50 28.13 L601.73 28.08 L601.95 28.03 L602.17 27.98 L602.39 27.94 L602.61 27.89 L602.83 27.84 L603.05 27.79 L603.27 27.74 L603.50 27.70 L603.72 27.65 L603.94 27.60 L604.16 27.56 L604.38 27.51 L604.60 27.47 L604.82 27.42 L605.04 27.37 L605.27 27.33 L605.49 27.28 L605.71 27.24 L605.93 27.20 L606.15 27.15 L606.37 27.11 L606.59 27.07 L606.81 27.02 L607.04 26.98 L607.26 26.94 L607.48 26.90 L607.70 26.85 L607.92 26.81 L608.14 26.77 L608.36 26.73 L608.58 26.69 L608.81 26.65 L609.03 26.61 L609.25 26.57 L609.47 26.53 L609.69 26.49 L609.91 26.45 L610.13 26.41 L610.35 26.37 L610.58 26.34 L610.80 26.30 L611.02 26.26 L611.24 26.22 L611.46 26.19 L611.68 26.15 L611.90 26.11 L612.12 26.08 L612.35 26.04 L612.57 26.00 L612.79 25.97 L613.01 25.93 L613.23 25.90 L613.45 25.86 L613.67 25.83 L613.89 25.79 L614.12 25.76 L614.34 25.72 L614.56 25.69 L614.78 25.66 L615.00 25.62 L615.22 25.59 L615.44 25.56 L615.66 25.53 L615.88 25.49 L616.11 25.46 L616.33 25.43 L616.55 25.40 L616.77 25.37 L616.99 25.34 L617.21 25.31 L617.43 25.27 L617.65 25.24 L617.88 25.21 L618.10 25.18 L618.32 25.15 L618.54 25.12 L618.76 25.10 L618.98 25.07 L619.20 25.04 L619.42 25.01 L619.65 24.98 L619.87 24.95 L620.09 24.92 L620.31 24.90 L620.53 24.87 L620.75 24.84 L620.97 24.81 L621.19 24.79 L621.42 24.76 L621.64 24.73 L621.86 24.71 L622.08 24.68 L622.30 24.66 L622.52 24.63 L622.74 24.60 L622.96 24.58 L623.19 24.55 L623.41 24.53 L623.63 24.50 L623.85 24.48 L624.07 24.46 L624.29 24.43 L624.51 24.41 L624.73 24.38 L624.96 24.36 L625.18 24.34 L625.40 24.31 L625.62 24.29 L625.84 24.27 L626.06 24.25 L626.28 24.22 L626.50 24.20 L626.73 24.18 L626.95 24.16 L627.17 24.14 L627.39 24.11 L627.61 24.09 L627.83 24.07 L628.05 24.05 L628.27 24.03 L628.50 24.01 L628.72 23.99 L628.94 23.97 L629.16 23.95 L629.38 23.93 L629.60 23.91 L629.82 23.89 L630.04 23.87 L630.27 23.85 L630.49 23.83 L630.71 23.81 L630.93 23.80 L631.15 23.78 L631.37 23.76 L631.59 23.74 L631.81 23.72 L632.04 23.70 L632.26 23.69 L632.48 23.67 L632.70 23.65 L632.92 23.63 L633.14 23.62 L633.36 23.60 L633.58 23.58 L633.81 23.57 L634.03 23.55 L634.25 23.53 L634.47 23.52 L634.69 23.50 L634.91 23.49 L635.13 23.47 L635.35 23.46 L635.58 23.44 L635.80 23.42 L636.02 23.41 L636.24 23.39 L636.46 23.38 L636.68 23.36 L636.90 23.35 L637.12 23.34 L637.35 23.32 L637.57 23.31 L637.79 23.29 L638.01 23.28 L638.23 23.27 L638.45 23.25 L638.67 23.24 L638.89 23.22 L639.12 23.21 L639.34 23.20 L639.56 23.19 L639.78 23.17 L640.00 23.16 L640.22 23.15 L640.44 23.13 L640.66 23.12 L640.88 23.11 L641.11 23.10 L641.33 23.09 L641.55 23.07 L641.77 23.06 L641.99 23.05 L642.21 23.04 L642.43 23.03 L642.65 23.02 L642.88 23.00 L643.10 22.99 L643.32 22.98 L643.54 22.97 L643.76 22.96 L643.98 22.95 L644.20 22.94 L644.42 22.93 L644.65 22.92 L644.87 22.91 L645.09 22.90 L645.31 22.89 L645.53 22.88 L645.75 22.87 L645.97 22.86 L646.19 22.85 L646.42 22.84 L646.64 22.83 L646.86 22.82 L647.08 22.81 L647.30 22.80 L647.52 22.79 L647.74 22.78 L647.96 22.77 L648.19 22.77 L648.41 22.76 L648.63 22.75 L648.85 22.74 L649.07 22.73 L649.29 22.72 L649.51 22.71 L649.73 22.71 L649.96 22.70 L650.18 22.69 L650.40 22.68 L650.62 22.67 L650.84 22.66 L651.06 22.66 L651.28 22.65 L651.50 22.64 L651.73 22.63 L651.95 22.63 L652.17 22.62 L652.39 22.61 L652.61 22.60 L652.83 22.60 L653.05 22.59 L653.27 22.58 L653.50 22.58 L653.72 22.57 L653.94 22.56 L654.16 22.55 L654.38 22.55 L654.60 22.54 L654.82 22.53 L655.04 22.53 L655.27 22.52 L655.49 22.51 L655.71 22.51 L655.93 22.50 L656.15 22.49 L656.37 22.49 L656.59 22.48 L656.81 22.48 L657.04 22.47 L657.26 22.46 L657.48 22.46 L657.70 22.45 L657.92 22.45 L658.14 22.44 L658.36 22.43 L658.58 22.43 L658.81 22.42 L659.03 22.42 L659.25 22.41 L659.47 22.40 L659.69 22.40 L659.91 22.39 L660.13 22.39 L660.35 22.38 L660.58 22.38 L660.80 22.37 L661.02 22.36 L661.24 22.36 L661.46 22.35 L661.68 22.35 L661.90 22.34 L662.12 22.34 L662.35 22.33 L662.57 22.33 L662.79 22.32 L663.01 22.32 L663.23 22.31 L663.45 22.31 L663.67 22.30 L663.89 22.30 L664.12 22.29 L664.34 22.28 L664.56 22.28 L664.78 22.27 L665.00 22.27 L665.22 22.26 L665.44 22.26 L665.66 22.25 L665.88 22.25 L666.11 22.24 L666.33 22.24 L666.55 22.23 L666.77 22.23 L666.99 22.22 L667.21 22.22 L667.43 22.21 L667.65 22.21 L667.88 22.20 L668.10 22.20 L668.32 22.19 L668.54 22.19 L668.76 22.18 L668.98 22.18 L669.20 22.17 L669.42 22.17 L669.65 22.16 L669.87 22.16 L670.09 22.16 L670.31 22.15 L670.53 22.15 L670.75 22.14 L670.97 22.14 L671.19 22.13 L671.42 22.13 L671.64 22.12 L671.86 22.12 L672.08 22.11 L672.30 22.11 L672.52 22.10 L672.74 22.10 L672.96 22.09 L673.19 22.09 L673.41 22.09 L673.63 22.08 L673.85 22.08 L674.07 22.07 L674.29 22.07 L674.51 22.06 L674.73 22.06 L674.96 22.05 L675.18 22.05 L675.40 22.05 L675.62 22.04 L675.84 22.04 L676.06 22.03 L676.28 22.03 L676.50 22.02 L676.73 22.02 L676.95 22.02 L677.17 22.01 L677.39 22.01 L677.61 22.00 L677.83 22.00 L678.05 21.99 L678.27 21.99 L678.50 21.99 L678.72 21.98 L678.94 21.98 L679.16 21.97 L679.38 21.97 L679.60 21.97 L679.82 21.96 L680.04 21.96 L680.27 21.95 L680.49 21.95 L680.71 21.94 L680.93 21.94 L681.15 21.94 L681.37 21.93 L681.59 21.93 L681.81 21.92 L682.04 21.92 L682.26 21.92 L682.48 21.91 L682.70 21.91 L682.92 21.91 L683.14 21.90 L683.36 21.90 L683.58 21.89 L683.81 21.89 L684.03 21.89 L684.25 21.88 L684.47 21.88 L684.69 21.88 L684.91 21.87 L685.13 21.87 L685.35 21.86 L685.58 21.86 L685.80 21.86 L686.02 21.85 L686.24 21.85 L686.46 21.85 L686.68 21.84 L686.90 21.84 L687.12 21.83 L687.35 21.83 L687.57 21.83 L687.79 21.82 L688.01 21.82 L688.23 21.82 L688.45 21.81 L688.67 21.81 L688.89 21.81 L689.12 21.80 L689.34 21.80 L689.56 21.80 L689.78 21.79 L690.00 21.79 L690.22 21.79 L690.44 21.78 L690.66 21.78 L690.88 21.78 L691.11 21.77 L691.33 21.77 L691.55 21.77 L691.77 21.76 L691.99 21.76 L692.21 21.76 L692.43 21.75 L692.65 21.75 L692.88 21.75 L693.10 21.74 L693.32 21.74 L693.54 21.74 L693.76 21.73 L693.98 21.73 L694.20 21.73 L694.42 21.72 L694.65 21.72 L694.87 21.72 L695.09 21.71 L695.31 21.71 L695.53 21.71 L695.75 21.71 L695.97 21.70 L696.19 21.70 L696.42 21.70 L696.64 21.69 L696.86 21.69 L697.08 21.69 L697.30 21.68 L697.52 21.68 L697.74 21.68 L697.96 21.68 L698.19 21.67 L698.41 21.67 L698.63 21.67 L698.85 21.66 L699.07 21.66 L699.29 21.66 L699.51 21.66 L699.73 21.65 L699.96 21.65 L700.18 21.65 L700.40 21.64 L700.62 21.64 L700.84 21.64 L701.06 21.64 L701.28 21.63 L701.50 21.63 L701.73 21.63 L701.95 21.62 L702.17 21.62 L702.39 21.62 L702.61 21.62 L702.83 21.61 L703.05 21.61 L703.27 21.61 L703.50 21.61 L703.72 21.60 L703.94 21.60 L704.16 21.60 L704.38 21.60 L704.60 21.59 L704.82 21.59 L705.04 21.59 L705.27 21.59 L705.49 21.58 L705.71 21.58 L705.93 21.58 L706.15 21.58 L706.37 21.57 L706.59 21.57 L706.81 21.57 L707.04 21.57 L707.26 21.56 L707.48 21.56 L707.70 21.56 L707.92 21.56 L708.14 21.55 L708.36 21.55 L708.58 21.55 L708.81 21.55 L709.03 21.54 L709.25 21.54 L709.47 21.54 L709.69 21.54 L709.91 21.54 L710.13 21.53 L710.35 21.53 L710.58 21.53 L710.80 21.53 L711.02 21.52 L711.24 21.52 L711.46 21.52 L711.68 21.52 L711.90 21.52 L712.12 21.51 L712.35 21.51 L712.57 21.51 L712.79 21.51 L713.01 21.51 L713.23 21.50 L713.45 21.50 L713.67 21.50 L713.89 21.50 L714.12 21.49 L714.34 21.49 L714.56 21.49 L714.78 21.49 L715.00 21.49 L715.22 21.48 L715.44 21.48 L715.66 21.48 L715.88 21.48 L716.11 21.48 L716.33 21.47 L716.55 21.47 L716.77 21.47 L716.99 21.47 L717.21 21.47 L717.43 21.47 L717.65 21.46 L717.88 21.46 L718.10 21.46 L718.32 21.46 L718.54 21.46 L718.76 21.45 L718.98 21.45 L719.20 21.45 L719.42 21.45 L719.65 21.45 L719.87 21.45 L720.09 21.44 L720.31 21.44 L720.53 21.44 L720.75 21.44 L720.97 21.44 L721.19 21.44 L721.42 21.43 L721.64 21.43 L721.86 21.43 L722.08 21.43 L722.30 21.43 L722.52 21.43 L722.74 21.42 L722.96 21.42 L723.19 21.42 L723.41 21.42 L723.63 21.42 L723.85 21.42 L724.07 21.41 L724.29 21.41 L724.51 21.41 L724.73 21.41 L724.96 21.41 L725.18 21.41 L725.40 21.40 L725.62 21.40 L725.84 21.40 L726.06 21.40 L726.28 21.40 L726.50 21.40 L726.73 21.40 L726.95 21.39 L727.17 21.39 L727.39 21.39 L727.61 21.39 L727.83 21.39 L728.05 21.39 L728.27 21.39 L728.50 21.38 L728.72 21.38 L728.94 21.38 L729.16 21.38 L729.38 21.38 L729.60 21.38 L729.82 21.38 L730.04 21.38 L730.27 21.37 L730.49 21.37 L730.71 21.37 L730.93 21.37 L731.15 21.37 L731.37 21.37 L731.59 21.37 L731.81 21.37 L732.04 21.36 L732.26 21.36 L732.48 21.36 L732.70 21.36 L732.92 21.36 L733.14 21.36 L733.36 21.36 L733.58 21.36 L733.81 21.35 L734.03 21.35 L734.25 21.35 L734.47 21.35 L734.69 21.35 L734.91 21.35 L735.13 21.35 L735.35 21.35 L735.58 21.35 L735.80 21.34 L736.02 21.34 L736.24 21.34 L736.46 21.34 L736.68 21.34 L736.90 21.34 L737.12 21.34 L737.35 21.34 L737.57 21.34 L737.79 21.34 L738.01 21.33 L738.23 21.33 L738.45 21.33 L738.67 21.33 L738.89 21.33 L739.12 21.33 L739.34 21.33 L739.56 21.33 L739.78 21.33 L740.00 21.33 L740.22 21.33 L740.44 21.32 L740.66 21.32 L740.88 21.32 L741.11 21.32 L741.33 21.32 L741.55 21.32 L741.77 21.32 L741.99 21.32 L742.21 21.32 L742.43 21.32 L742.65 21.32 L742.88 21.32 L743.10 21.31 L743.32 21.31 L743.54 21.31 L743.76 21.31 L743.98 21.31 L744.20 21.31 L744.42 21.31 L744.65 21.31 L744.87 21.31 L745.09 21.31 L745.31 21.31 L745.53 21.31 L745.75 21.31 L745.97 21.30 L746.19 21.30 L746.42 21.30 L746.64 21.30 L746.86 21.30 L747.08 21.30 L747.30 21.30 L747.52 21.30 L747.74 21.30 L747.96 21.30 L748.19 21.30 L748.41 21.30 L748.63 21.30 L748.85 21.30 L749.07 21.30 L749.29 21.30 L749.51 21.29 L749.73 21.29 L749.96 21.29 L750.18 21.29 L750.40 21.29 L750.62 21.29 L750.84 21.29 L751.06 21.29 L751.28 21.29 L751.50 21.29 L751.73 21.29 L751.95 21.29 L752.17 21.29 L752.39 21.29 L752.61 21.29 L752.83 21.29 L753.05 21.29 L753.27 21.29 L753.50 21.29 L753.72 21.29 L753.94 21.28 L754.16 21.28 L754.38 21.28 L754.60 21.28 L754.82 21.28 L755.04 21.28 L755.27 21.28 L755.49 21.28 L755.71 21.28 L755.93 21.28 L756.15 21.28 L756.37 21.28 L756.59 21.28 L756.81 21.28 L757.04 21.28 L757.26 21.28 L757.48 21.28 L757.70 21.28 L757.92 21.28 L758.14 21.28 L758.36 21.28 L758.58 21.28 L758.81 21.28 L759.03 21.28 L759.25 21.28 L759.47 21.28 L759.69 21.28 L759.91 21.28 L760.13 21.28 L760.35 21.28 L760.58 21.28 L760.80 21.27 L761.02 21.27 L761.24 21.27 L761.46 21.27 L761.68 21.27 L761.90 21.27 L762.12 21.27 L762.35 21.27 L762.57 21.27 L762.79 21.27 L763.01 21.27 L763.23 21.27 L763.45 21.27 L763.67 21.27 L763.89 21.27 L764.12 21.27 L764.34 21.27 L764.56 21.27 L764.78 21.27 L765.00 21.27 L765.22 21.27 L765.44 21.27 L765.66 21.27 L765.88 21.27 L766.11 21.27 L766.33 21.27 L766.55 21.27 L766.77 21.27 L766.99 21.27 L767.21 21.27 L767.43 21.27 L767.65 21.27 L767.88 21.27 L768.10 21.27 L768.32 21.27 L768.54 21.27 L768.76 21.27 L768.98 21.27 L769.20 21.27 L769.42 21.27 L769.65 21.27 L769.87 21.27 L770.09 21.27 L770.31 21.27 L770.53 21.27 L770.75 21.27 L770.97 21.27 L771.19 21.27 L771.42 21.27 L771.64 21.27 L771.86 21.27 L772.08 21.27 L772.30 21.27 L772.52 21.27 L772.74 21.27 L772.96 21.27 L773.19 21.27 L773.41 21.27 L773.63 21.27 L773.85 21.27 L774.07 21.27 L774.29 21.27 L774.51 21.27 L774.73 21.27 L774.96 21.27 L775.18 21.27 L775.40 21.27 L775.62 21.27 L775.84 21.27 L776.06 21.27 L776.28 21.27 L776.50 21.27 L776.73 21.27 L776.95 21.27 L777.17 21.27 L777.39 21.27 L777.61 21.27 L777.83 21.27 L778.05 21.27 L778.27 21.27 L778.50 21.27 L778.72 21.27 L778.94 21.27 L779.16 21.27 L779.38 21.27 L779.60 21.27 L779.82 21.28 L780.04 21.28 L780.27 21.28 L780.49 21.28 L780.71 21.28 L780.93 21.28 L781.15 21.28 L781.37 21.28 L781.59 21.28 L781.81 21.28 L782.04 21.28 L782.26 21.28 L782.48 21.28 L782.70 21.28 L782.92 21.28 L783.14 21.28 L783.36 21.28 L783.58 21.28 L783.81 21.28 L784.03 21.28 L784.25 21.28 L784.47 21.28 L784.69 21.28 L784.91 21.28 L785.13 21.28 L785.35 21.28 L785.58 21.28 L785.80 21.28 L786.02 21.28 L786.24 21.28 L786.46 21.28 L786.68 21.28 L786.90 21.28 L787.12 21.28 L787.35 21.28 L787.57 21.28 L787.79 21.28 L788.01 21.28 L788.23 21.29 L788.45 21.29 L788.67 21.29 L788.89 21.29 L789.12 21.29 L789.34 21.29 L789.56 21.29 L789.78 21.29 L790.00 21.29 L790.22 21.29 L790.44 21.29 L790.66 21.29 L790.88 21.29 L791.11 21.29 L791.33 21.29 L791.55 21.29 L791.77 21.29 L791.99 21.29 L792.21 21.29 L792.43 21.29 L792.65 21.29 L792.88 21.29 L793.10 21.29 L793.32 21.29 L793.54 21.29 L793.76 21.29 L793.98 21.29 L794.20 21.30 L794.42 21.30 L794.65 21.30 L794.87 21.30 L795.09 21.30 L795.31 21.30 L795.53 21.30 L795.75 21.30 L795.97 21.30 L796.19 21.30 L796.42 21.30 L796.64 21.30 L796.86 21.30 L797.08 21.30 L797.30 21.30 L797.52 21.30 L797.74 21.30 L797.96 21.30 L798.19 21.30 L798.41 21.30 L798.63 21.30 L798.85 21.30 L799.07 21.30 L799.29 21.31 L799.51 21.31 L799.73 21.31 L799.96 21.31 L800.18 21.31 L800.40 21.31 L800.62 21.31 L800.84 21.31 L801.06 21.31 L801.28 21.31 L801.50 21.31 L801.73 21.31 L801.95 21.31 L802.17 21.31 L802.39 21.31 L802.61 21.31 L802.83 21.31 L803.05 21.31 L803.27 21.31 L803.50 21.31 L803.72 21.31 L803.94 21.31 L804.16 21.32 L804.38 21.32 L804.60 21.32 L804.82 21.32 L805.04 21.32 L805.27 21.32 L805.49 21.32 L805.71 21.32 L805.93 21.32 L806.15 21.32 L806.37 21.32 L806.59 21.32 L806.81 21.32 L807.04 21.32 L807.26 21.32 L807.48 21.32 L807.70 21.32 L807.92 21.32 L808.14 21.32 L808.36 21.32 L808.58 21.33 L808.81 21.33 L809.03 21.33 L809.25 21.33 L809.47 21.33 L809.69 21.33 L809.91 21.33 L810.13 21.33 L810.35 21.33 L810.58 21.33 L810.80 21.33 L811.02 21.33 L811.24 21.33 L811.46 21.33 L811.68 21.33 L811.90 21.33 L812.12 21.33 L812.35 21.33 L812.57 21.33 L812.79 21.33 L813.01 21.34 L813.23 21.34 L813.45 21.34 L813.67 21.34 L813.89 21.34 L814.12 21.34 L814.34 21.34 L814.56 21.34 L814.78 21.34 L815.00 21.34 L815.22 21.34 L815.44 21.34 L815.66 21.34 L815.88 21.34 L816.11 21.34 L816.33 21.34 L816.55 21.34 L816.77 21.34 L816.99 21.34 L817.21 21.35 L817.43 21.35 L817.65 21.35 L817.88 21.35 L818.10 21.35 L818.32 21.35 L818.54 21.35 L818.76 21.35 L818.98 21.35 L819.20 21.35 L819.42 21.35 L819.65 21.35 L819.87 21.35 L820.09 21.35 L820.31 21.35 L820.53 21.35 L820.75 21.35 L820.97 21.35 L821.19 21.35 L821.42 21.35 L821.64 21.36 L821.86 21.36 L822.08 21.36 L822.30 21.36 L822.52 21.36 L822.74 21.36 L822.96 21.36 L823.19 21.36 L823.41 21.36 L823.63 21.36 L823.85 21.36 L824.07 21.36 L824.29 21.36 L824.51 21.36 L824.73 21.36 L824.96 21.36 L825.18 21.36 L825.40 21.36 L825.62 21.36 L825.84 21.36 L826.06 21.37 L826.28 21.37 L826.50 21.37 L826.73 21.37 L826.95 21.37 L827.17 21.37 L827.39 21.37 L827.61 21.37 L827.83 21.37 L828.05 21.37 L828.27 21.37 L828.50 21.37 L828.72 21.37 L828.94 21.37 L829.16 21.37 L829.38 21.37 L829.60 21.37 L829.82 21.37 L830.04 21.37 L830.27 21.37 L830.49 21.37 L830.71 21.38 L830.93 21.38 L831.15 21.38 L831.37 21.38 L831.59 21.38 L831.81 21.38 L832.04 21.38 L832.26 21.38 L832.48 21.38 L832.70 21.38 L832.92 21.38 L833.14 21.38 L833.36 21.38 L833.58 21.38 L833.81 21.38 L834.03 21.38 L834.25 21.38 L834.47 21.38 L834.69 21.38 L834.91 21.38 L835.13 21.38 L835.35 21.38 L835.58 21.38 L835.80 21.39 L836.02 21.39 L836.24 21.39 L836.46 21.39 L836.68 21.39 L836.90 21.39 L837.12 21.39 L837.35 21.39 L837.57 21.39 L837.79 21.39 L838.01 21.39 L838.23 21.39 L838.45 21.39 L838.67 21.39 L838.89 21.39 L839.12 21.39 L839.34 21.39 L839.56 21.39 L839.78 21.39 L840.00 21.39 L840.22 21.39 L840.44 21.39 L840.66 21.39 L840.88 21.39 L841.11 21.39 L841.33 21.39 L841.55 21.40 L841.77 21.40 L841.99 21.40 L842.21 21.40 L842.43 21.40 L842.65 21.40 L842.88 21.40 L843.10 21.40 L843.32 21.40 L843.54 21.40 L843.76 21.40 L843.98 21.40 L844.20 21.40 L844.42 21.40 L844.65 21.40 L844.87 21.40 L845.09 21.40 L845.31 21.40 L845.53 21.40 L845.75 21.40 L845.97 21.40 L846.19 21.40 L846.42 21.40 L846.64 21.40 L846.86 21.40 L847.08 21.40 L847.30 21.40 L847.52 21.40 L847.74 21.40 L847.96 21.40 L848.19 21.40 L848.41 21.40 L848.63 21.40 L848.85 21.40 L849.07 21.40 L849.29 21.41 L849.51 21.41 L849.73 21.41 L849.96 21.41 L850.18 21.41 L850.40 21.41 L850.62 21.41 L850.84 21.41 L851.06 21.41 L851.28 21.41 L851.50 21.41 L851.73 21.41 L851.95 21.41 L852.17 21.41 L852.39 21.41 L852.61 21.41 L852.83 21.41 L853.05 21.41 L853.27 21.41 L853.50 21.41 L853.72 21.41 L853.94 21.41 L854.16 21.41 L854.38 21.41 L854.60 21.41 L854.82 21.41 L855.04 21.41 L855.27 21.41 L855.49 21.41 L855.71 21.41 L855.93 21.41 L856.15 21.41 L856.37 21.41 L856.59 21.41 L856.81 21.41 L857.04 21.41 L857.26 21.41 L857.48 21.41 L857.70 21.41 L857.92 21.41 L858.14 21.41 L858.36 21.41 L858.58 21.41 L858.81 21.41 L859.03 21.41 L859.25 21.41 L859.47 21.41 L859.69 21.41 L859.91 21.41 L860.13 21.41 L860.35 21.41 L860.58 21.41 L860.80 21.41 L861.02 21.41 L861.24 21.41 L861.46 21.41 L861.68 21.41 L861.90 21.41 L862.12 21.41 L862.35 21.41 L862.57 21.41 L862.79 21.41 L863.01 21.41 L863.23 21.41 L863.45 21.41 L863.67 21.41 L863.89 21.41 L864.12 21.41 L864.34 21.41 L864.56 21.41 L864.78 21.41 L865.00 21.41 L865.22 21.41 L865.44 21.41 L865.66 21.41 L865.88 21.41 L866.11 21.41 L866.33 21.41 L866.55 21.41 L866.77 21.41 L866.99 21.41 L867.21 21.41 L867.43 21.41 L867.65 21.41 L867.88 21.41 L868.10 21.41 L868.32 21.41 L868.54 21.41 L868.76 21.41 L868.98 21.41 L869.20 21.41 L869.42 21.41 L869.65 21.41 L869.87 21.41 L870.09 21.41 L870.31 21.41 L870.53 21.41 L870.75 21.41 L870.97 21.41 L871.19 21.41 L871.42 21.41 L871.64 21.40 L871.86 21.40 L872.08 21.40 L872.30 21.40 L872.52 21.40 L872.74 21.40 L872.96 21.40 L873.19 21.40 L873.41 21.40 L873.63 21.40 L873.85 21.40 L874.07 21.40 L874.29 21.40 L874.51 21.40 L874.73 21.40 L874.96 21.40 L875.18 21.40 L875.40 21.40 L875.62 21.40 L875.84 21.40 L876.06 21.40 L876.28 21.40 L876.50 21.40 L876.73 21.40 L876.95 21.40 L877.17 21.40 L877.39 21.40 L877.61 21.39 L877.83 21.39 L878.05 21.39 L878.27 21.39 L878.50 21.39 L878.72 21.39 L878.94 21.39 L879.16 21.39 L879.38 21.39 L879.60 21.39 L879.82 21.39 L880.04 21.39 L880.27 21.39 L880.49 21.39 L880.71 21.39 L880.93 21.39 L881.15 21.39 L881.37 21.39 L881.59 21.39 L881.81 21.39 L882.04 21.38 L882.26 21.38 L882.48 21.38 L882.70 21.38 L882.92 21.38 L883.14 21.38 L883.36 21.38 L883.58 21.38 L883.81 21.38 L884.03 21.38 L884.25 21.38 L884.47 21.38 L884.69 21.38 L884.91 21.38 L885.13 21.38 L885.35 21.37 L885.58 21.37 L885.80 21.37 L886.02 21.37 L886.24 21.37 L886.46 21.37 L886.68 21.37 L886.90 21.37 L887.12 21.37 L887.35 21.37 L887.57 21.37 L887.79 21.37 L888.01 21.37 L888.23 21.36 L888.45 21.36 L888.67 21.36 L888.89 21.36 L889.12 21.36 L889.34 21.36 L889.56 21.36 L889.78 21.36 L890.00 21.36 L890.22 21.36 L890.44 21.36 L890.66 21.36 L890.88 21.35 L891.11 21.35 L891.33 21.35 L891.55 21.35 L891.77 21.35 L891.99 21.35 L892.21 21.35 L892.43 21.35 L892.65 21.35 L892.88 21.35 L893.10 21.35 L893.32 21.34 L893.54 21.34 L893.76 21.34 L893.98 21.34 L894.20 21.34 L894.42 21.34 L894.65 21.34 L894.87 21.34 L895.09 21.34 L895.31 21.34 L895.53 21.33 L895.75 21.33 L895.97 21.33 L896.19 21.33 L896.42 21.33 L896.64 21.33 L896.86 21.33 L897.08 21.33 L897.30 21.33 L897.52 21.33 L897.74 21.32 L897.96 21.32 L898.19 21.32 L898.41 21.32 L898.63 21.32 L898.85 21.32 L899.07 21.32 L899.29 21.32 L899.51 21.32 L899.73 21.31 L899.96 21.31 L900.18 21.31 L900.40 21.31 L900.62 21.31 L900.84 21.31 L901.06 21.31 L901.28 21.31 L901.50 21.31 L901.73 21.30 L901.95 21.30 L902.17 21.30 L902.39 21.30 L902.61 21.30 L902.83 21.30 L903.05 21.30 L903.27 21.30 L903.50 21.30 L903.72 21.29 L903.94 21.29 L904.16 21.29 L904.38 21.29 L904.60 21.29 L904.82 21.29 L905.04 21.29 L905.27 21.29 L905.49 21.29 L905.71 21.28 L905.93 21.28 L906.15 21.28 L906.37 21.28 L906.59 21.28 L906.81 21.28 L907.04 21.28 L907.26 21.28 L907.48 21.27 L907.70 21.27 L907.92 21.27 L908.14 21.27 L908.36 21.27 L908.58 21.27 L908.81 21.27 L909.03 21.27 L909.25 21.26 L909.47 21.26 L909.69 21.26 L909.91 21.26 L910.13 21.26 L910.35 21.26 L910.58 21.26 L910.80 21.26 L911.02 21.25 L911.24 21.25 L911.46 21.25 L911.68 21.25 L911.90 21.25 L912.12 21.25 L912.35 21.25 L912.57 21.25 L912.79 21.24 L913.01 21.24 L913.23 21.24 L913.45 21.24 L913.67 21.24 L913.89 21.24 L914.12 21.24 L914.34 21.24 L914.56 21.23 L914.78 21.23 L915.00 21.23 L915.22 21.23 L915.44 21.23 L915.66 21.23 L915.88 21.23 L916.11 21.23 L916.33 21.22 L916.55 21.22 L916.77 21.22 L916.99 21.22 L917.21 21.22 L917.43 21.22 L917.65 21.22 L917.88 21.22 L918.10 21.21 L918.32 21.21 L918.54 21.21 L918.76 21.21 L918.98 21.21 L919.20 21.21 L919.42 21.21 L919.65 21.21 L919.87 21.20 L920.09 21.20 L920.31 21.20 L920.53 21.20 L920.75 21.20 L920.97 21.20 L921.19 21.20 L921.42 21.19 L921.64 21.19 L921.86 21.19 L922.08 21.19 L922.30 21.19 L922.52 21.19 L922.74 21.19 L922.96 21.19 L923.19 21.18 L923.41 21.18 L923.63 21.18 L923.85 21.18 L924.07 21.18 L924.29 21.18 L924.51 21.18 L924.73 21.18 L924.96 21.17 L925.18 21.17 L925.40 21.17 L925.62 21.17 L925.84 21.17 L926.06 21.17 L926.28 21.17 L926.50 21.17 L926.73 21.16 L926.95 21.16 L927.17 21.16 L927.39 21.16 L927.61 21.16 L927.83 21.16 L928.05 21.16 L928.27 21.16 L928.50 21.15 L928.72 21.15 L928.94 21.15 L929.16 21.15 L929.38 21.15 L929.60 21.15 L929.82 21.15 L930.04 21.15 L930.27 21.14 L930.49 21.14 L930.71 21.14 L930.93 21.14 L931.15 21.14 L931.37 21.14 L931.59 21.14 L931.81 21.14 L932.04 21.14 L932.26 21.13 L932.48 21.13 L932.70 21.13 L932.92 21.13 L933.14 21.13 L933.36 21.13 L933.58 21.13 L933.81 21.13 L934.03 21.12 L934.25 21.12 L934.47 21.12 L934.69 21.12 L934.91 21.12 L935.13 21.12 L935.35 21.12 L935.58 21.12 L935.80 21.12 L936.02 21.11 L936.24 21.11 L936.46 21.11 L936.68 21.11 L936.90 21.11 L937.12 21.11 L937.35 21.11 L937.57 21.11 L937.79 21.11 L938.01 21.10 L938.23 21.10 L938.45 21.10 L938.67 21.10 L938.89 21.10 L939.12 21.10 L939.34 21.10 L939.56 21.10 L939.78 21.10 L940.00 21.10 L940.22 21.09 L940.44 21.09 L940.66 21.09 L940.88 21.09 L941.11 21.09 L941.33 21.09 L941.55 21.09 L941.77 21.09 L941.99 21.09 L942.21 21.08 L942.43 21.08 L942.65 21.08 L942.88 21.08 L943.10 21.08 L943.32 21.08 L943.54 21.08 L943.76 21.08 L943.98 21.08 L944.20 21.08 L944.42 21.08 L944.65 21.07 L944.87 21.07 L945.09 21.07 L945.31 21.07 L945.53 21.07 L945.75 21.07 L945.97 21.07 L946.19 21.07 L946.42 21.07 L946.64 21.07 L946.86 21.07 L947.08 21.06 L947.30 21.06 L947.52 21.06 L947.74 21.06 L947.96 21.06 L948.19 21.06 L948.41 21.06 L948.63 21.06 L948.85 21.06 L949.07 21.06 L949.29 21.06 L949.51 21.06 L949.73 21.05 L949.96 21.05 L950.18 21.05 L950.40 21.05 L950.62 21.05 L950.84 21.05 L951.06 21.05 L951.28 21.05 L951.50 21.05 L951.73 21.05 L951.95 21.05 L952.17 21.05 L952.39 21.05 L952.61 21.05 L952.83 21.04 L953.05 21.04 L953.27 21.04 L953.50 21.04 L953.72 21.04 L953.94 21.04 L954.16 21.04 L954.38 21.04 L954.60 21.04 L954.82 21.04 L955.04 21.04 L955.27 21.04 L955.49 21.04 L955.71 21.04 L955.93 21.04 L956.15 21.04 L956.37 21.03 L956.59 21.03 L956.81 21.03 L957.04 21.03 L957.26 21.03 L957.48 21.03 L957.70 21.03 L957.92 21.03 L958.14 21.03 L958.36 21.03 L958.58 21.03 L958.81 21.03 L959.03 21.03 L959.25 21.03 L959.47 21.03 L959.69 21.03 L959.91 21.03 L960.13 21.03 L960.35 21.03 L960.58 21.03 L960.80 21.03 L961.02 21.03 L961.24 21.03 L961.46 21.02 L961.68 21.02 L961.90 21.02 L962.12 21.02 L962.35 21.02 L962.57 21.02 L962.79 21.02 L963.01 21.02 L963.23 21.02 L963.45 21.02 L963.67 21.02 L963.89 21.02 L964.12 21.02 L964.34 21.02 L964.56 21.02 L964.78 21.02 L965.00 21.02 L965.22 21.02 L965.44 21.02 L965.66 21.02 L965.88 21.02 L966.11 21.02 L966.33 21.02 L966.55 21.02 L966.77 21.02 L966.99 21.02 L967.21 21.02 L967.43 21.02 L967.65 21.02 L967.88 21.02 L968.10 21.02 L968.32 21.02 L968.54 21.02 L968.76 21.02 L968.98 21.02 L969.20 21.02 L969.42 21.02 L969.65 21.02 L969.87 21.02 L970.09 21.02 L970.31 21.02 L970.53 21.02 L970.75 21.02 L970.97 21.02 L971.19 21.02 L971.42 21.02 L971.64 21.02 L971.86 21.02 L972.08 21.02 L972.30 21.02 L972.52 21.02 L972.74 21.02 L972.96 21.02 L973.19 21.02 L973.41 21.02 L973.63 21.02 L973.85 21.02 L974.07 21.02 L974.29 21.02 L974.51 21.02 L974.73 21.02 L974.96 21.03 L975.18 21.03 L975.40 21.03 L975.62 21.03 L975.84 21.03 L976.06 21.03 L976.28 21.03 L976.50 21.03 L976.73 21.03 L976.95 21.03 L977.17 21.03 L977.39 21.03 L977.61 21.03 L977.83 21.03 L978.05 21.03 L978.27 21.03 L978.50 21.03 L978.72 21.03 L978.94 21.03 L979.16 21.03 L979.38 21.04 L979.60 21.04 L979.82 21.04 L980.04 21.04 L980.27 21.04 L980.49 21.04 L980.71 21.04 L980.93 21.04 L981.15 21.04 L981.37 21.04 L981.59 21.04 L981.81 21.04 L982.04 21.04 L982.26 21.04 L982.48 21.05 L982.70 21.05 L982.92 21.05 L983.14 21.05 L983.36 21.05 L983.58 21.05 L983.81 21.05 L984.03 21.05 L984.25 21.05 L984.47 21.05 L984.69 21.05 L984.91 21.06 L985.13 21.06 L985.35 21.06 L985.58 21.06 L985.80 21.06 L986.02 21.06 L986.24 21.06 L986.46 21.06 L986.68 21.06 L986.90 21.06 L987.12 21.07 L987.35 21.07 L987.57 21.07 L987.79 21.07 L988.01 21.07 L988.23 21.07 L988.45 21.07 L988.67 21.07 L988.89 21.08 L989.12 21.08 L989.34 21.08 L989.56 21.08 L989.78 21.08 L990.00 21.08 L990.22 21.08 L990.44 21.09 L990.66 21.09 L990.88 21.09 L991.11 21.09 L991.33 21.09 L991.55 21.09 L991.77 21.09 L991.99 21.10 L992.21 21.10 L992.43 21.10 L992.65 21.10 L992.88 21.10 L993.10 21.10 L993.32 21.10 L993.54 21.11 L993.76 21.11 L993.98 21.11 L994.20 21.11 L994.42 21.11 L994.65 21.11 L994.87 21.12 L995.09 21.12 L995.31 21.12 L995.53 21.12 L995.75 21.12 L995.97 21.13 L996.19 21.13 L996.42 21.13 L996.64 21.13 L996.86 21.13 L997.08 21.13 L997.30 21.14 L997.52 21.14 L997.74 21.14 L997.96 21.14 L998.19 21.14 L998.41 21.15 L998.63 21.15 L998.85 21.15 L999.07 21.15 L999.29 21.15 L999.51 21.16 L999.73 21.16 L999.96 21.16 L1000.18 21.16 L1000.40 21.17 L1000.62 21.17 L1000.84 21.17 L1001.06 21.17 L1001.28 21.17 L1001.50 21.18 L1001.73 21.18 L1001.95 21.18 L1002.17 21.18 L1002.39 21.19 L1002.61 21.19 L1002.83 21.19 L1003.05 21.19 L1003.27 21.20 L1003.50 21.20 L1003.72 21.20 L1003.94 21.20 L1004.16 21.20 L1004.38 21.21 L1004.60 21.21 L1004.82 21.21 L1005.04 21.22 L1005.27 21.22 L1005.49 21.22 L1005.71 21.22 L1005.93 21.23 L1006.15 21.23 L1006.37 21.23 L1006.59 21.23 L1006.81 21.24 L1007.04 21.24 L1007.26 21.24 L1007.48 21.24 L1007.70 21.25 L1007.92 21.25 L1008.14 21.25 L1008.36 21.26 L1008.58 21.26 L1008.81 21.26 L1009.03 21.26 L1009.25 21.27 L1009.47 21.27 L1009.69 21.27 L1009.91 21.28 L1010.13 21.28 L1010.35 21.28 L1010.58 21.29 L1010.80 21.29 L1011.02 21.29 L1011.24 21.30 L1011.46 21.30 L1011.68 21.30 L1011.90 21.31 L1012.12 21.31 L1012.35 21.31 L1012.57 21.31 L1012.79 21.32 L1013.01 21.32 L1013.23 21.32 L1013.45 21.33 L1013.67 21.33 L1013.89 21.33 L1014.12 21.34 L1014.34 21.34 L1014.56 21.35 L1014.78 21.35 L1015.00 21.35 L1015.22 21.36 L1015.44 21.36 L1015.66 21.36 L1015.88 21.37 L1016.11 21.37 L1016.33 21.37 L1016.55 21.38 L1016.77 21.38 L1016.99 21.39 L1017.21 21.39 L1017.43 21.39 L1017.65 21.40 L1017.88 21.40 L1018.10 21.40 L1018.32 21.41 L1018.54 21.41 L1018.76 21.42 L1018.98 21.42 L1019.20 21.42 L1019.42 21.43 L1019.65 21.43 L1019.87 21.44 L1020.09 21.44 L1020.31 21.44 L1020.53 21.45 L1020.75 21.45 L1020.97 21.46 L1021.19 21.46 L1021.42 21.46 L1021.64 21.47 L1021.86 21.47 L1022.08 21.48 L1022.30 21.48 L1022.52 21.49 L1022.74 21.49 L1022.96 21.49 L1023.19 21.50 L1023.41 21.50 L1023.63 21.51 L1023.85 21.51 L1024.07 21.52 L1024.29 21.52 L1024.51 21.53 L1024.73 21.53 L1024.96 21.53 L1025.18 21.54 L1025.40 21.54 L1025.62 21.55 L1025.84 21.55 L1026.06 21.56 L1026.28 21.56 L1026.50 21.57 L1026.73 21.57 L1026.95 21.58 L1027.17 21.58 L1027.39 21.59 L1027.61 21.59 L1027.83 21.60 L1028.05 21.60 L1028.27 21.61 L1028.50 21.61 L1028.72 21.62 L1028.94 21.62 L1029.16 21.63 L1029.38 21.63 L1029.60 21.64 L1029.82 21.64 L1030.04 21.65 L1030.27 21.65 L1030.49 21.66 L1030.71 21.66 L1030.93 21.67 L1031.15 21.67 L1031.37 21.68 L1031.59 21.68 L1031.81 21.69 L1032.04 21.69 L1032.26 21.70 L1032.48 21.70 L1032.70 21.71 L1032.92 21.72 L1033.14 21.72 L1033.36 21.73 L1033.58 21.73 L1033.81 21.74 L1034.03 21.74 L1034.25 21.75 L1034.47 21.75 L1034.69 21.76 L1034.91 21.77 L1035.13 21.77 L1035.35 21.78 L1035.58 21.78 L1035.80 21.79 L1036.02 21.79 L1036.24 21.80 L1036.46 21.81 L1036.68 21.81 L1036.90 21.82 L1037.12 21.82 L1037.35 21.83 L1037.57 21.84 L1037.79 21.84 L1038.01 21.85 L1038.23 21.85 L1038.45 21.86 L1038.67 21.87 L1038.89 21.87 L1039.12 21.88 L1039.34 21.89 L1039.56 21.89 L1039.78 21.90 L1040.00 21.90 L1040.22 21.91 L1040.44 21.92 L1040.66 21.92 L1040.88 21.93 L1041.11 21.94 L1041.33 21.94 L1041.55 21.95 L1041.77 21.96 L1041.99 21.96 L1042.21 21.97 L1042.43 21.98 L1042.65 21.98 L1042.88 21.99 L1043.10 22.00 L1043.32 22.00 L1043.54 22.01 L1043.76 22.02 L1043.98 22.02 L1044.20 22.03 L1044.42 22.04 L1044.65 22.04 L1044.87 22.05 L1045.09 22.06 L1045.31 22.07 L1045.53 22.07 L1045.75 22.08 L1045.97 22.09 L1046.19 22.09 L1046.42 22.10 L1046.64 22.11 L1046.86 22.12 L1047.08 22.12 L1047.30 22.13 L1047.52 22.14 L1047.74 22.14 L1047.96 22.15 L1048.19 22.16 L1048.41 22.17 L1048.63 22.17 L1048.85 22.18 L1049.07 22.19 L1049.29 22.20 L1049.51 22.20 L1049.73 22.21 L1049.96 22.22 L1050.18 22.23 L1050.40 22.24 L1050.62 22.24 L1050.84 22.25 L1051.06 22.26 L1051.28 22.27 L1051.50 22.27 L1051.73 22.28 L1051.95 22.29 L1052.17 22.30 L1052.39 22.31 L1052.61 22.31 L1052.83 22.32 L1053.05 22.33 L1053.27 22.34 L1053.50 22.35 L1053.72 22.36 L1053.94 22.36 L1054.16 22.37 L1054.38 22.38 L1054.60 22.39 L1054.82 22.40 L1055.04 22.40 L1055.27 22.41 L1055.49 22.42 L1055.71 22.43 L1055.93 22.44 L1056.15 22.45 L1056.37 22.46 L1056.59 22.46 L1056.81 22.47 L1057.04 22.48 L1057.26 22.49 L1057.48 22.50 L1057.70 22.51 L1057.92 22.52 L1058.14 22.53 L1058.36 22.53 L1058.58 22.54 L1058.81 22.55 L1059.03 22.56 L1059.25 22.57 L1059.47 22.58 L1059.69 22.59 L1059.91 22.60 L1060.13 22.61 L1060.35 22.62 L1060.58 22.62 L1060.80 22.63 L1061.02 22.64 L1061.24 22.65 L1061.46 22.66 L1061.68 22.67 L1061.90 22.68 L1062.12 22.69 L1062.35 22.70 L1062.57 22.71 L1062.79 22.72 L1063.01 22.73 L1063.23 22.74 L1063.45 22.75 L1063.67 22.76 L1063.89 22.77 L1064.12 22.78 L1064.34 22.79 L1064.56 22.80 L1064.78 22.81 L1065.00 22.82 L1065.22 22.83 L1065.44 22.83 L1065.66 22.84 L1065.88 22.85 L1066.11 22.86 L1066.33 22.87 L1066.55 22.89 L1066.77 22.90 L1066.99 22.91 L1067.21 22.92 L1067.43 22.93 L1067.65 22.94 L1067.88 22.95 L1068.10 22.96 L1068.32 22.97 L1068.54 22.98 L1068.76 22.99 L1068.98 23.00 L1069.20 23.01 L1069.42 23.02 L1069.65 23.03 L1069.87 23.04 L1070.09 23.05 L1070.31 23.06 L1070.53 23.07 L1070.75 23.08 L1070.97 23.09 L1071.19 23.10 L1071.42 23.12 L1071.64 23.13 L1071.86 23.14 L1072.08 23.15 L1072.30 23.16 L1072.52 23.17 L1072.74 23.18 L1072.96 23.19 L1073.19 23.20 L1073.41 23.22 L1073.63 23.23 L1073.85 23.24 L1074.07 23.25 L1074.29 23.26 L1074.51 23.27 L1074.73 23.28 L1074.96 23.29 L1075.18 23.31 L1075.40 23.32 L1075.62 23.33 L1075.84 23.34 L1076.06 23.35 L1076.28 23.36 L1076.50 23.38 L1076.73 23.39 L1076.95 23.40 L1077.17 23.41 L1077.39 23.42 L1077.61 23.43 L1077.83 23.45 L1078.05 23.46 L1078.27 23.47 L1078.50 23.48 L1078.72 23.49 L1078.94 23.51 L1079.16 23.52 L1079.38 23.53 L1079.60 23.54 L1079.82 23.56 L1080.04 23.57 L1080.27 23.58 L1080.49 23.59 L1080.71 23.60 L1080.93 23.62 L1081.15 23.63 L1081.37 23.64 L1081.59 23.66 L1081.81 23.67 L1082.04 23.68 L1082.26 23.69 L1082.48 23.71 L1082.70 23.72 L1082.92 23.73 L1083.14 23.75 L1083.36 23.76 L1083.58 23.77 L1083.81 23.78 L1084.03 23.80 L1084.25 23.81 L1084.47 23.83 L1084.69 23.84 L1084.91 23.85 L1085.13 23.87 L1085.35 23.88 L1085.58 23.89 L1085.80 23.91 L1086.02 23.92 L1086.24 23.94 L1086.46 23.95 L1086.68 23.96 L1086.90 23.98 L1087.12 23.99 L1087.35 24.01 L1087.57 24.02 L1087.79 24.04 L1088.01 24.05 L1088.23 24.07 L1088.45 24.08 L1088.67 24.10 L1088.89 24.11 L1089.12 24.13 L1089.34 24.15 L1089.56 24.16 L1089.78 24.18 L1090.00 24.19 L1090.22 24.21 L1090.44 24.23 L1090.66 24.24 L1090.88 24.26 L1091.11 24.28 L1091.33 24.29 L1091.55 24.31 L1091.77 24.33 L1091.99 24.34 L1092.21 24.36 L1092.43 24.38 L1092.65 24.40 L1092.88 24.42 L1093.10 24.43 L1093.32 24.45 L1093.54 24.47 L1093.76 24.49 L1093.98 24.51 L1094.20 24.53 L1094.42 24.55 L1094.65 24.56 L1094.87 24.58 L1095.09 24.60 L1095.31 24.62 L1095.53 24.64 L1095.75 24.66 L1095.97 24.68 L1096.19 24.70 L1096.42 24.72 L1096.64 24.75 L1096.86 24.77 L1097.08 24.79 L1097.30 24.81 L1097.52 24.83 L1097.74 24.85 L1097.96 24.87 L1098.19 24.90 L1098.41 24.92 L1098.63 24.94 L1098.85 24.96 L1099.07 24.99 L1099.29 25.01 L1099.51 25.03 L1099.73 25.06 L1099.96 25.08 L1100.18 25.11 L1100.40 25.13 L1100.62 25.15 L1100.84 25.18 L1101.06 25.20 L1101.28 25.23 L1101.50 25.26 L1101.73 25.28 L1101.95 25.31 L1102.17 25.33 L1102.39 25.36 L1102.61 25.39 L1102.83 25.41 L1103.05 25.44 L1103.27 25.47 L1103.50 25.50 L1103.72 25.52 L1103.94 25.55 L1104.16 25.58 L1104.38 25.61 L1104.60 25.64 L1104.82 25.67 L1105.04 25.70 L1105.27 25.73 L1105.49 25.76 L1105.71 25.79 L1105.93 25.82 L1106.15 25.85 L1106.37 25.88 L1106.59 25.91 L1106.81 25.94 L1107.04 25.97 L1107.26 26.01 L1107.48 26.04 L1107.70 26.07 L1107.92 26.10 L1108.14 26.14 L1108.36 26.17 L1108.58 26.20 L1108.81 26.24 L1109.03 26.27 L1109.25 26.31 L1109.47 26.34 L1109.69 26.38 L1109.91 26.41 L1110.13 26.45 L1110.35 26.49 L1110.58 26.52 L1110.80 26.56 L1111.02 26.60 L1111.24 26.64 L1111.46 26.67 L1111.68 26.71 L1111.90 26.75 L1112.12 26.79 L1112.35 26.83 L1112.57 26.87 L1112.79 26.91 L1113.01 26.95 L1113.23 26.99 L1113.45 27.03 L1113.67 27.07 L1113.89 27.11 L1114.12 27.16 L1114.34 27.20 L1114.56 27.24 L1114.78 27.28 L1115.00 27.33 L1115.22 27.37 L1115.44 27.42 L1115.66 27.46 L1115.88 27.50 L1116.11 27.55 L1116.33 27.60 L1116.55 27.64 L1116.77 27.69 L1116.99 27.74 L1117.21 27.78 L1117.43 27.83 L1117.65 27.88 L1117.88 27.93 L1118.10 27.97 L1118.32 28.02 L1118.54 28.07 L1118.76 28.12 L1118.98 28.17 L1119.20 28.22 L1119.42 28.28 L1119.65 28.33 L1119.87 28.38 L1120.09 28.43 L1120.31 28.48 L1120.53 28.54 L1120.75 28.59 L1120.97 28.64 L1121.19 28.70 L1121.42 28.75 L1121.64 28.81 L1121.86 28.86 L1122.08 28.92 L1122.30 28.98 L1122.52 29.03 L1122.74 29.09 L1122.96 29.15 L1123.19 29.21 L1123.41 29.27 L1123.63 29.33 L1123.85 29.39 L1124.07 29.45 L1124.29 29.51 L1124.51 29.57 L1124.73 29.63 L1124.96 29.69 L1125.18 29.75 L1125.40 29.82 L1125.62 29.88 L1125.84 29.94 L1126.06 30.01 L1126.28 30.07 L1126.50 30.14 L1126.73 30.20 L1126.95 30.27 L1127.17 30.34 L1127.39 30.40 L1127.61 30.47 L1127.83 30.54 L1128.05 30.61 L1128.27 30.68 L1128.50 30.75 L1128.72 30.82 L1128.94 30.89 L1129.16 30.96 L1129.38 31.03 L1129.60 31.10 L1129.82 31.17 L1130.04 31.25 L1130.27 31.32 L1130.49 31.39 L1130.71 31.47 L1130.93 31.54 L1131.15 31.62 L1131.37 31.70 L1131.59 31.77 L1131.81 31.85 L1132.04 31.93 L1132.26 32.01 L1132.48 32.09 L1132.70 32.17 L1132.92 32.25 L1133.14 32.33 L1133.36 32.41 L1133.58 32.49 L1133.81 32.57 L1134.03 32.65 L1134.25 32.74 L1134.47 32.82 L1134.69 32.91 L1134.91 32.99 L1135.13 33.08 L1135.35 33.16 L1135.58 33.25 L1135.80 33.34 L1136.02 33.42 L1136.24 33.51 L1136.46 33.60 L1136.68 33.69 L1136.90 33.78 L1137.12 33.87 L1137.35 33.97 L1137.57 34.06 L1137.79 34.15 L1138.01 34.24 L1138.23 34.34 L1138.45 34.43 L1138.67 34.53 L1138.89 34.62 L1139.12 34.72 L1139.34 34.82 L1139.56 34.91 L1139.78 35.01 L1140.00 35.11 L1140.22 35.21 L1140.44 35.31 L1140.66 35.42 L1140.88 35.52 L1141.11 35.62 L1141.33 35.73 L1141.55 35.83 L1141.77 35.94 L1141.99 36.05 L1142.21 36.16 L1142.43 36.27 L1142.65 36.38 L1142.88 36.49 L1143.10 36.60 L1143.32 36.72 L1143.54 36.83 L1143.76 36.95 L1143.98 37.07 L1144.20 37.19 L1144.42 37.31 L1144.65 37.43 L1144.87 37.56 L1145.09 37.68 L1145.31 37.81 L1145.53 37.93 L1145.75 38.06 L1145.97 38.19 L1146.19 38.33 L1146.42 38.46 L1146.64 38.60 L1146.86 38.73 L1147.08 38.87 L1147.30 39.01 L1147.52 39.16 L1147.74 39.30 L1147.96 39.45 L1148.19 39.59 L1148.41 39.74 L1148.63 39.89 L1148.85 40.05 L1149.07 40.20 L1149.29 40.36 L1149.51 40.52 L1149.73 40.68 L1149.96 40.84 L1150.18 41.01 L1150.40 41.17 L1150.62 41.34 L1150.84 41.52 L1151.06 41.69 L1151.28 41.87 L1151.50 42.04 L1151.73 42.22 L1151.95 42.41 L1152.17 42.59 L1152.39 42.78 L1152.61 42.97 L1152.83 43.16 L1153.05 43.36 L1153.27 43.55 L1153.50 43.75 L1153.72 43.96 L1153.94 44.16 L1154.16 44.37 L1154.38 44.58 L1154.60 44.79 L1154.82 45.01 L1155.04 45.23 L1155.27 45.45 L1155.49 45.67 L1155.71 45.90 L1155.93 46.13 L1156.15 46.36 L1156.37 46.60 L1156.59 46.84 L1156.81 47.08 L1157.04 47.32 L1157.26 47.57 L1157.48 47.82 L1157.70 48.08 L1157.92 48.33 L1158.14 48.59 L1158.36 48.86 L1158.58 49.13 L1158.81 49.40 L1159.03 49.67 L1159.25 49.95 L1159.47 50.23 L1159.69 50.51 L1159.91 50.80 L1160.13 51.09 L1160.35 51.39 L1160.58 51.69 L1160.80 51.99 L1161.02 52.30 L1161.24 52.61 L1161.46 52.92 L1161.68 53.24 L1161.90 53.56 L1162.12 53.89 L1162.35 54.22 L1162.57 54.55 L1162.79 54.89 L1163.01 55.23 L1163.23 55.58 L1163.45 55.93 L1163.67 56.29 L1163.89 56.65 L1164.12 57.01 L1164.34 57.38 L1164.56 57.75 L1164.78 58.13 L1165.00 58.51 L1165.22 58.90 L1165.44 59.29 L1165.66 59.68 L1165.88 60.08 L1166.11 60.49 L1166.33 60.90 L1166.55 61.31 L1166.77 61.73 L1166.99 62.16 L1167.21 62.59 L1167.43 63.02 L1167.65 63.46 L1167.88 63.91 L1168.10 64.36 L1168.32 64.82 L1168.54 65.28 L1168.76 65.74 L1168.98 66.22 L1169.20 66.70 L1169.42 67.18 L1169.65 67.67 L1169.87 68.16 L1170.09 68.66 L1170.31 69.17 L1170.53 69.68 L1170.75 70.20 L1170.97 70.73 L1171.19 71.26 L1171.42 71.80 L1171.64 72.34 L1171.86 72.89 L1172.08 73.45 L1172.30 74.01 L1172.52 74.58 L1172.74 75.15 L1172.96 75.74 L1173.19 76.33 L1173.41 76.92 L1173.63 77.53 L1173.85 78.14 L1174.07 78.75 L1174.29 79.38 L1174.51 80.01 L1174.73 80.65 L1174.96 81.30 L1175.18 81.95 L1175.40 82.61 L1175.62 83.28 L1175.84 83.96 L1176.06 84.64 L1176.28 85.33 L1176.50 86.04 L1176.73 86.74 L1176.95 87.46 L1177.17 88.19 L1177.39 88.92 L1177.61 89.66 L1177.83 90.42 L1178.05 91.18 L1178.27 91.94 L1178.50 92.72 L1178.72 93.51 L1178.94 94.31 L1179.16 95.11 L1179.38 95.93 L1179.60 96.75 L1179.82 97.58 L1180.04 98.43 L1180.27 99.28 L1180.49 100.14 L1180.71 101.02 L1180.93 101.90 L1181.15 102.80 L1181.37 103.70 L1181.59 104.62 L1181.81 105.54 L1182.04 106.48 L1182.26 107.43 L1182.48 108.39 L1182.70 109.36 L1182.92 110.35 L1183.14 111.34 L1183.36 112.35 L1183.58 113.37 L1183.81 114.40 L1184.03 115.44 L1184.25 116.50 L1184.47 117.57 L1184.69 118.65 L1184.91 119.74 L1185.13 120.85 L1185.35 121.97 L1185.58 123.11 L1185.80 124.26 L1186.02 125.42 L1186.24 126.60 L1186.46 127.79 L1186.68 129.00 L1186.90 130.22 L1187.12 131.46 L1187.35 132.72 L1187.57 133.98 L1187.79 135.27 L1188.01 136.57 L1188.23 137.89 L1188.45 139.22 L1188.67 140.58 L1188.89 141.95 L1189.12 143.33 L1189.34 144.74 L1189.56 146.16 L1189.78 147.60 L1190.00 149.06 L1190.22 150.54 L1190.44 152.04 L1190.66 153.56 L1190.88 155.10 L1191.11 156.66 L1191.33 158.25 L1191.55 159.85 L1191.77 161.47 L1191.99 163.12 L1192.21 164.79 L1192.43 166.48 L1192.65 168.20 L1192.88 169.94 L1193.10 171.70 L1193.32 173.49 L1193.54 175.31 L1193.76 177.15 L1193.98 179.02 L1194.20 180.91 L1194.42 182.84 L1194.65 184.79 L1194.87 186.77 L1195.09 188.78 L1195.31 190.81 L1195.53 192.88 L1195.75 194.99 L1195.97 197.12 L1196.19 199.29 L1196.42 201.49 L1196.64 203.72 L1196.86 205.99 L1197.08 208.30 L1197.30 210.64 L1197.52 213.02 L1197.74 215.44 L1197.96 217.90 L1198.19 220.40 L1198.41 222.95 L1198.63 225.53 L1198.85 228.16 L1199.07 230.84 L1199.29 233.56 L1199.51 236.33 L1199.73 239.15 L1199.96 242.02 L1200.18 244.95 L1200.40 247.92 L1200.62 250.95 L1200.84 254.03 L1201.06 257.17 L1201.28 260.36 L1201.50 263.62 L1201.73 266.93 L1201.95 270.30 L1202.17 273.74 L1202.39 277.23 L1202.61 280.79 L1202.83 284.42 L1203.05 288.12 L1203.27 291.88 L1203.50 295.72 L1203.72 299.63 L1203.94 303.62 L1204.16 307.68 L1204.38 311.82 L1204.60 316.04 L1204.82 320.35 L1205.04 324.74 L1205.27 329.23 L1205.49 333.80 L1205.71 338.47 L1205.93 343.24 L1206.15 348.10 L1206.37 353.08 L1206.59 358.16 L1206.81 363.35 L1207.04 368.66 L1207.26 374.09 L1207.48 379.64 L1207.70 385.33 L1207.92 391.15 L1208.14 397.11 L1208.36 403.22 L1208.58 409.49 L1208.81 415.92 L1209.03 422.51 L1209.25 429.28 L1209.47 436.24 L1209.69 443.40 L1209.91 450.76 L1210.13 458.33 L1210.35 466.14 L1210.58 474.19 L1210.80 482.50 L1211.02 491.08 L1211.24 499.95 L1211.46 509.14 L1211.68 518.66 L1211.90 528.54 L1212.12 538.81 L1212.35 549.49 L1212.57 560.62 L1212.79 572.25 L1213.01 584.41 L1213.23 597.16 L1213.45 610.56 L1213.67 624.68 L1213.89 639.60 L1214.12 655.43 L1214.34 672.29 L1214.56 690.32 L1214.78 709.70 L1215.00 730.66 L1215.22 753.49"/>
<path d="M1220.09 741.61 L1220.31 722.00 L1220.53 703.95 L1220.75 687.23 L1220.97 671.66 L1221.19 657.11 L1221.42 643.45 L1221.64 630.58 L1221.86 618.42 L1222.08 606.91 L1222.30 595.98 L1222.52 585.57 L1222.74 575.64 L1222.96 566.16 L1223.19 557.09 L1223.41 548.39 L1223.63 540.04 L1223.85 532.01 L1224.07 524.29 L1224.29 516.85 L1224.51 509.67 L1224.73 502.74 L1224.96 496.04 L1225.18 489.56 L1225.40 483.29 L1225.62 477.22 L1225.84 471.33 L1226.06 465.62 L1226.28 460.08 L1226.50 454.69 L1226.73 449.45 L1226.95 444.36 L1227.17 439.41 L1227.39 434.59 L1227.61 429.90 L1227.83 425.32 L1228.05 420.86 L1228.27 416.51 L1228.50 412.27 L1228.72 408.13 L1228.94 404.08 L1229.16 400.13 L1229.38 396.27 L1229.60 392.50 L1229.82 388.81 L1230.04 385.20 L1230.27 381.67 L1230.49 378.21 L1230.71 374.83 L1230.93 371.52 L1231.15 368.27 L1231.37 365.09 L1231.59 361.98 L1231.81 358.92 L1232.04 355.93 L1232.26 352.99 L1232.48 350.11 L1232.70 347.29 L1232.92 344.52 L1233.14 341.80 L1233.36 339.13 L1233.58 336.51 L1233.81 333.93 L1234.03 331.41 L1234.25 328.92 L1234.47 326.48 L1234.69 324.09 L1234.91 321.73 L1235.13 319.42 L1235.35 317.14 L1235.58 314.91 L1235.80 312.71 L1236.02 310.55 L1236.24 308.42 L1236.46 306.33 L1236.68 304.27 L1236.90 302.25 L1237.12 300.26 L1237.35 298.30 L1237.57 296.37 L1237.79 294.47 L1238.01 292.61 L1238.23 290.77 L1238.45 288.96 L1238.67 287.18 L1238.89 285.42 L1239.12 283.69 L1239.34 281.99 L1239.56 280.32 L1239.78 278.67 L1240.00 277.04 L1240.22 275.44 L1240.44 273.87 L1240.66 272.31 L1240.88 270.78 L1241.11 269.28 L1241.33 267.79 L1241.55 266.33 L1241.77 264.88 L1241.99 263.46 L1242.21 262.06 L1242.43 260.68 L1242.65 259.32 L1242.88 257.98 L1243.10 256.66 L1243.32 255.35 L1243.54 254.07 L1243.76 252.80 L1243.98 251.55 L1244.20 250.32 L1244.42 249.11 L1244.65 247.91 L1244.87 246.73 L1245.09 245.57 L1245.31 244.42 L1245.53 243.29 L1245.75 242.17 L1245.97 241.07 L1246.19 239.99 L1246.42 238.92 L1246.64 237.86 L1246.86 236.82 L1247.08 235.80 L1247.30 234.78 L1247.52 233.79 L1247.74 232.80 L1247.96 231.83 L1248.19 230.87 L1248.41 229.93 L1248.63 229.00 L1248.85 228.08 L1249.07 227.17 L1249.29 226.28 L1249.51 225.40 L1249.73 224.53 L1249.96 223.67 L1250.18 222.82 L1250.40 221.99 L1250.62 221.17 L1250.84 220.36 L1251.06 219.55 L1251.28 218.76 L1251.50 217.99 L1251.73 217.22 L1251.95 216.46 L1252.17 215.71 L1252.39 214.98 L1252.61 214.25 L1252.83 213.53 L1253.05 212.83 L1253.27 212.13 L1253.50 211.44 L1253.72 210.76 L1253.94 210.09 L1254.16 209.43 L1254.38 208.78 L1254.60 208.14 L1254.82 207.51 L1255.04 206.88 L1255.27 206.27 L1255.49 205.66 L1255.71 205.06 L1255.93 204.47 L1256.15 203.89 L1256.37 203.32 L1256.59 202.75 L1256.81 202.20 L1257.04 201.65 L1257.26 201.11 L1257.48 200.57 L1257.70 200.05 L1257.92 199.53 L1258.14 199.01 L1258.36 198.51 L1258.58 198.01 L1258.81 197.52 L1259.03 197.04 L1259.25 196.56 L1259.47 196.09 L1259.69 195.63 L1259.91 195.18 L1260.13 194.73 L1260.35 194.29 L1260.58 193.85 L1260.80 193.42 L1261.02 193.00 L1261.24 192.58 L1261.46 192.17 L1261.68 191.76 L1261.90 191.37 L1262.12 190.97 L1262.35 190.59 L1262.57 190.20 L1262.79 189.83 L1263.01 189.46 L1263.23 189.10 L1263.45 188.74 L1263.67 188.38 L1263.89 188.04 L1264.12 187.69 L1264.34 187.36 L1264.56 187.03 L1264.78 186.70 L1265.00 186.38 L1265.22 186.06 L1265.44 185.75 L1265.66 185.44 L1265.88 185.14 L1266.11 184.84 L1266.33 184.55 L1266.55 184.26 L1266.77 183.98 L1266.99 183.70 L1267.21 183.43 L1267.43 183.16 L1267.65 182.89 L1267.88 182.63 L1268.10 182.38 L1268.32 182.12 L1268.54 181.88 L1268.76 181.63 L1268.98 181.39 L1269.20 181.16 L1269.42 180.92 L1269.65 180.70 L1269.87 180.47 L1270.09 180.25 L1270.31 180.04 L1270.53 179.82 L1270.75 179.61 L1270.97 179.41 L1271.19 179.20 L1271.42 179.01 L1271.64 178.81 L1271.86 178.62 L1272.08 178.43 L1272.30 178.24 L1272.52 178.06 L1272.74 177.88 L1272.96 177.71 L1273.19 177.53 L1273.41 177.36 L1273.63 177.20 L1273.85 177.03 L1274.07 176.87 L1274.29 176.72 L1274.51 176.56 L1274.73 176.41 L1274.96 176.26 L1275.18 176.11 L1275.40 175.97 L1275.62 175.83 L1275.84 175.69 L1276.06 175.56 L1276.28 175.43 L1276.50 175.30 L1276.73 175.17 L1276.95 175.05 L1277.17 174.93 L1277.39 174.81 L1277.61 174.70 L1277.83 174.59 L1278.05 174.48 L1278.27 174.37 L1278.50 174.27 L1278.72 174.17 L1278.94 174.07 L1279.16 173.98 L1279.38 173.88 L1279.60 173.79 L1279.82 173.71 L1280.04 173.62 L1280.27 173.54 L1280.49 173.46 L1280.71 173.39 L1280.93 173.32 L1281.15 173.25 L1281.37 173.18 L1281.59 173.11 L1281.81 173.05 L1282.04 172.99 L1282.26 172.94 L1282.48 172.88 L1282.70 172.83 L1282.92 172.78 L1283.14 172.74 L1283.36 172.70 L1283.58 172.66 L1283.81 172.62 L1284.03 172.58 L1284.25 172.55 L1284.47 172.52 L1284.69 172.49 L1284.91 172.47 L1285.13 172.45 L1285.35 172.43 L1285.58 172.41 L1285.80 172.40 L1286.02 172.39 L1286.24 172.38 L1286.46 172.37 L1286.68 172.37 L1286.90 172.37 L1287.12 172.37 L1287.35 172.38 L1287.57 172.39 L1287.79 172.40 L1288.01 172.41 L1288.23 172.42 L1288.45 172.44 L1288.67 172.46 L1288.89 172.49 L1289.12 172.51 L1289.34 172.54 L1289.56 172.57 L1289.78 172.60 L1290.00 172.64 L1290.22 172.68 L1290.44 172.72 L1290.66 172.76 L1290.88 172.81 L1291.11 172.86 L1291.33 172.91 L1291.55 172.97 L1291.77 173.02 L1291.99 173.08 L1292.21 173.14 L1292.43 173.21 L1292.65 173.28 L1292.88 173.35 L1293.10 173.42 L1293.32 173.49 L1293.54 173.57 L1293.76 173.65 L1293.98 173.73 L1294.20 173.82 L1294.42 173.91 L1294.65 174.00 L1294.87 174.09 L1295.09 174.18 L1295.31 174.28 L1295.53 174.38 L1295.75 174.49 L1295.97 174.59 L1296.19 174.70 L1296.42 174.81 L1296.64 174.93 L1296.86 175.04 L1297.08 175.16 L1297.30 175.28 L1297.52 175.41 L1297.74 175.53 L1297.96 175.66 L1298.19 175.79 L1298.41 175.93 L1298.63 176.06 L1298.85 176.20 L1299.07 176.34 L1299.29 176.49 L1299.51 176.64 L1299.73 176.79 L1299.96 176.94 L1300.18 177.09 L1300.40 177.25 L1300.62 177.41 L1300.84 177.57 L1301.06 177.74 L1301.28 177.91 L1301.50 178.08 L1301.73 178.25 L1301.95 178.43 L1302.17 178.61 L1302.39 178.79 L1302.61 178.97 L1302.83 179.16 L1303.05 179.35 L1303.27 179.54 L1303.50 179.73 L1303.72 179.93 L1303.94 180.13 L1304.16 180.33 L1304.38 180.53 L1304.60 180.74 L1304.82 180.95 L1305.04 181.16 L1305.27 181.38 L1305.49 181.60 L1305.71 181.82 L1305.93 182.04 L1306.15 182.27 L1306.37 182.50 L1306.59 182.73 L1306.81 182.96 L1307.04 183.20 L1307.26 183.44 L1307.48 183.68 L1307.70 183.93 L1307.92 184.17 L1308.14 184.42 L1308.36 184.68 L1308.58 184.93 L1308.81 185.19 L1309.03 185.45 L1309.25 185.72 L1309.47 185.98 L1309.69 186.25 L1309.91 186.53 L1310.13 186.80 L1310.35 187.08 L1310.58 187.36 L1310.80 187.64 L1311.02 187.93 L1311.24 188.22 L1311.46 188.51 L1311.68 188.81 L1311.90 189.10 L1312.12 189.40 L1312.35 189.71 L1312.57 190.01 L1312.79 190.32 L1313.01 190.63 L1313.23 190.95 L1313.45 191.27 L1313.67 191.59 L1313.89 191.91 L1314.12 192.24 L1314.34 192.57 L1314.56 192.90 L1314.78 193.23 L1315.00 193.57 L1315.22 193.91 L1315.44 194.25 L1315.66 194.60 L1315.88 194.95 L1316.11 195.30 L1316.33 195.66 L1316.55 196.02 L1316.77 196.38 L1316.99 196.74 L1317.21 197.11 L1317.43 197.48 L1317.65 197.86 L1317.88 198.23 L1318.10 198.61 L1318.32 198.99 L1318.54 199.38 L1318.76 199.77 L1318.98 200.16 L1319.20 200.56 L1319.42 200.95 L1319.65 201.36 L1319.87 201.76 L1320.09 202.17 L1320.31 202.58 L1320.53 202.99 L1320.75 203.41 L1320.97 203.83 L1321.19 204.25 L1321.42 204.68 L1321.64 205.11 L1321.86 205.54 L1322.08 205.98 L1322.30 206.42 L1322.52 206.86 L1322.74 207.31 L1322.96 207.76 L1323.19 208.21 L1323.41 208.67 L1323.63 209.13 L1323.85 209.59 L1324.07 210.06 L1324.29 210.53 L1324.51 211.00 L1324.73 211.48 L1324.96 211.96 L1325.18 212.44 L1325.40 212.93 L1325.62 213.42 L1325.84 213.92 L1326.06 214.41 L1326.28 214.91 L1326.50 215.42 L1326.73 215.93 L1326.95 216.44 L1327.17 216.95 L1327.39 217.47 L1327.61 218.00 L1327.83 218.52 L1328.05 219.05 L1328.27 219.59 L1328.50 220.12 L1328.72 220.66 L1328.94 221.21 L1329.16 221.76 L1329.38 222.31 L1329.60 222.87 L1329.82 223.43 L1330.04 223.99 L1330.27 224.56 L1330.49 225.13 L1330.71 225.71 L1330.93 226.29 L1331.15 226.87 L1331.37 227.46 L1331.59 228.05 L1331.81 228.64 L1332.04 229.24 L1332.26 229.85 L1332.48 230.45 L1332.70 231.06 L1332.92 231.68 L1333.14 232.30 L1333.36 232.92 L1333.58 233.55 L1333.81 234.18 L1334.03 234.82 L1334.25 235.46 L1334.47 236.11 L1334.69 236.76 L1334.91 237.41 L1335.13 238.07 L1335.35 238.73 L1335.58 239.40 L1335.80 240.07 L1336.02 240.75 L1336.24 241.43 L1336.46 242.11 L1336.68 242.80 L1336.90 243.50 L1337.12 244.20 L1337.35 244.90 L1337.57 245.61 L1337.79 246.32 L1338.01 247.04 L1338.23 247.76 L1338.45 248.49 L1338.67 249.22 L1338.89 249.96 L1339.12 250.70 L1339.34 251.45 L1339.56 252.20 L1339.78 252.95 L1340.00 253.72 L1340.22 254.48 L1340.44 255.26 L1340.66 256.03 L1340.88 256.82 L1341.11 257.60 L1341.33 258.40 L1341.55 259.19 L1341.77 260.00 L1341.99 260.81 L1342.21 261.62 L1342.43 262.44 L1342.65 263.27 L1342.88 264.10 L1343.10 264.94 L1343.32 265.78 L1343.54 266.63 L1343.76 267.48 L1343.98 268.34 L1344.20 269.21 L1344.42 270.08 L1344.65 270.95 L1344.87 271.84 L1345.09 272.73 L1345.31 273.62 L1345.53 274.52 L1345.75 275.43 L1345.97 276.35 L1346.19 277.27 L1346.42 278.19 L1346.64 279.13 L1346.86 280.06 L1347.08 281.01 L1347.30 281.96 L1347.52 282.92 L1347.74 283.89 L1347.96 284.86 L1348.19 285.84 L1348.41 286.83 L1348.63 287.82 L1348.85 288.82 L1349.07 289.83 L1349.29 290.84 L1349.51 291.86 L1349.73 292.89 L1349.96 293.93 L1350.18 294.97 L1350.40 296.02 L1350.62 297.08 L1350.84 298.15 L1351.06 299.22 L1351.28 300.30 L1351.50 301.39 L1351.73 302.49 L1351.95 303.59 L1352.17 304.71 L1352.39 305.83 L1352.61 306.96 L1352.83 308.10 L1353.05 309.24 L1353.27 310.40 L1353.50 311.56 L1353.72 312.73 L1353.94 313.92 L1354.16 315.11 L1354.38 316.30 L1354.60 317.51 L1354.82 318.73 L1355.04 319.95 L1355.27 321.19 L1355.49 322.43 L1355.71 323.68 L1355.93 324.95 L1356.15 326.22 L1356.37 327.50 L1356.59 328.79 L1356.81 330.09 L1357.04 331.40 L1357.26 332.72 L1357.48 334.05 L1357.70 335.39 L1357.92 336.74 L1358.14 338.10 L1358.36 339.47 L1358.58 340.85 L1358.81 342.25 L1359.03 343.65 L1359.25 345.06 L1359.47 346.48 L1359.69 347.92 L1359.91 349.36 L1360.13 350.82 L1360.35 352.29 L1360.58 353.77 L1360.80 355.26 L1361.02 356.76 L1361.24 358.27 L1361.46 359.80 L1361.68 361.33 L1361.90 362.88 L1362.12 364.45 L1362.35 366.02 L1362.57 367.61 L1362.79 369.20 L1363.01 370.82 L1363.23 372.44 L1363.45 374.08 L1363.67 375.73 L1363.89 377.39 L1364.12 379.07 L1364.34 380.76 L1364.56 382.46 L1364.78 384.18 L1365.00 385.91 L1365.22 387.66 L1365.44 389.42 L1365.66 391.20 L1365.88 392.99 L1366.11 394.79 L1366.33 396.61 L1366.55 398.45 L1366.77 400.30 L1366.99 402.17 L1367.21 404.05 L1367.43 405.95 L1367.65 407.87 L1367.88 409.80 L1368.10 411.75 L1368.32 413.72 L1368.54 415.70 L1368.76 417.70 L1368.98 419.72 L1369.20 421.76 L1369.42 423.82 L1369.65 425.89 L1369.87 427.99 L1370.09 430.10 L1370.31 432.23 L1370.53 434.38 L1370.75 436.55 L1370.97 438.75 L1371.19 440.96 L1371.42 443.19 L1371.64 445.45 L1371.86 447.73 L1372.08 450.03 L1372.30 452.35 L1372.52 454.70 L1372.74 457.06 L1372.96 459.46 L1373.19 461.87 L1373.41 464.31 L1373.63 466.78 L1373.85 469.27 L1374.07 471.79 L1374.29 474.33 L1374.51 476.90 L1374.73 479.50 L1374.96 482.12 L1375.18 484.78 L1375.40 487.46 L1375.62 490.17 L1375.84 492.91 L1376.06 495.69 L1376.28 498.49 L1376.50 501.33 L1376.73 504.20 L1376.95 507.10 L1377.17 510.03 L1377.39 513.01 L1377.61 516.01 L1377.83 519.06 L1378.05 522.14 L1378.27 525.26 L1378.50 528.42 L1378.72 531.61 L1378.94 534.85 L1379.16 538.14 L1379.38 541.46 L1379.60 544.83 L1379.82 548.24 L1380.04 551.70 L1380.27 555.21 L1380.49 558.76 L1380.71 562.37 L1380.93 566.03 L1381.15 569.74 L1381.37 573.51 L1381.59 577.33 L1381.81 581.21 L1382.04 585.15 L1382.26 589.15 L1382.48 593.21 L1382.70 597.34 L1382.92 601.53 L1383.14 605.80 L1383.36 610.13 L1383.58 614.54 L1383.81 619.03 L1384.03 623.60 L1384.25 628.24 L1384.47 632.98 L1384.69 637.80 L1384.91 642.71 L1385.13 647.72 L1385.35 652.83 L1385.58 658.04 L1385.80 663.35 L1386.02 668.78 L1386.24 674.32 L1386.46 679.99 L1386.68 685.78 L1386.90 691.70 L1387.12 697.77 L1387.35 703.97 L1387.57 710.34 L1387.79 716.86 L1388.01 723.55 L1388.23 730.41 L1388.45 737.47 L1388.67 744.72 L1388.89 752.19 L1389.12 759.88"/>
<path d="M1403.94 755.57 L1404.16 748.96 L1404.38 742.53 L1404.60 736.29 L1404.82 730.21 L1405.04 724.30 L1405.27 718.54 L1405.49 712.92 L1405.71 707.45 L1405.93 702.11 L1406.15 696.90 L1406.37 691.81 L1406.59 686.84 L1406.81 681.97 L1407.04 677.22 L1407.26 672.57 L1407.48 668.01 L1407.70 663.55 L1407.92 659.19 L1408.14 654.91 L1408.36 650.71 L1408.58 646.60 L1408.81 642.57 L1409.03 638.61 L1409.25 634.72 L1409.47 630.91 L1409.69 627.17 L1409.91 623.49 L1410.13 619.88 L1410.35 616.33 L1410.58 612.84 L1410.80 609.41 L1411.02 606.03 L1411.24 602.72 L1411.46 599.45 L1411.68 596.24 L1411.90 593.08 L1412.12 589.97 L1412.35 586.90 L1412.57 583.88 L1412.79 580.91 L1413.01 577.99 L1413.23 575.10 L1413.45 572.26 L1413.67 569.46 L1413.89 566.70 L1414.12 563.98 L1414.34 561.30 L1414.56 558.65 L1414.78 556.04 L1415.00 553.47 L1415.22 550.93 L1415.44 548.43 L1415.66 545.95 L1415.88 543.52 L1416.11 541.11 L1416.33 538.73 L1416.55 536.39 L1416.77 534.07 L1416.99 531.79 L1417.21 529.53 L1417.43 527.30 L1417.65 525.10 L1417.88 522.92 L1418.10 520.78 L1418.32 518.65 L1418.54 516.56 L1418.76 514.48 L1418.98 512.44 L1419.20 510.41 L1419.42 508.42 L1419.65 506.44 L1419.87 504.49 L1420.09 502.55 L1420.31 500.65 L1420.53 498.76 L1420.75 496.89 L1420.97 495.05 L1421.19 493.22 L1421.42 491.42 L1421.64 489.63 L1421.86 487.87 L1422.08 486.12 L1422.30 484.40 L1422.52 482.69 L1422.74 481.00 L1422.96 479.33 L1423.19 477.67 L1423.41 476.04 L1423.63 474.42 L1423.85 472.82 L1424.07 471.23 L1424.29 469.66 L1424.51 468.11 L1424.73 466.58 L1424.96 465.06 L1425.18 463.55 L1425.40 462.06 L1425.62 460.59 L1425.84 459.13 L1426.06 457.69 L1426.28 456.26 L1426.50 454.84 L1426.73 453.44 L1426.95 452.05 L1427.17 450.68 L1427.39 449.32 L1427.61 447.98 L1427.83 446.64 L1428.05 445.32 L1428.27 444.02 L1428.50 442.72 L1428.72 441.44 L1428.94 440.17 L1429.16 438.92 L1429.38 437.68 L1429.60 436.44 L1429.82 435.23 L1430.04 434.02 L1430.27 432.82 L1430.49 431.64 L1430.71 430.46 L1430.93 429.30 L1431.15 428.15 L1431.37 427.01 L1431.59 425.88 L1431.81 424.76 L1432.04 423.66 L1432.26 422.56 L1432.48 421.47 L1432.70 420.39 L1432.92 419.33 L1433.14 418.27 L1433.36 417.22 L1433.58 416.18 L1433.81 415.16 L1434.03 414.14 L1434.25 413.13 L1434.47 412.13 L1434.69 411.14 L1434.91 410.16 L1435.13 409.18 L1435.35 408.22 L1435.58 407.27 L1435.80 406.32 L1436.02 405.38 L1436.24 404.45 L1436.46 403.53 L1436.68 402.62 L1436.90 401.72 L1437.12 400.82 L1437.35 399.93 L1437.57 399.05 L1437.79 398.18 L1438.01 397.32 L1438.23 396.46 L1438.45 395.61 L1438.67 394.77 L1438.89 393.94 L1439.12 393.11 L1439.34 392.29 L1439.56 391.48 L1439.78 390.68 L1440.00 389.88 L1440.22 389.09 L1440.44 388.31 L1440.66 387.53 L1440.88 386.76 L1441.11 386.00 L1441.33 385.24 L1441.55 384.50 L1441.77 383.75 L1441.99 383.02 L1442.21 382.29 L1442.43 381.57 L1442.65 380.85 L1442.88 380.14 L1443.10 379.44 L1443.32 378.74 L1443.54 378.05 L1443.76 377.37 L1443.98 376.69 L1444.20 376.02 L1444.42 375.35 L1444.65 374.69 L1444.87 374.04 L1445.09 373.39 L1445.31 372.75 L1445.53 372.11 L1445.75 371.48 L1445.97 370.86 L1446.19 370.24 L1446.42 369.62 L1446.64 369.01 L1446.86 368.41 L1447.08 367.81 L1447.30 367.22 L1447.52 366.64 L1447.74 366.05 L1447.96 365.48 L1448.19 364.91 L1448.41 364.34 L1448.63 363.78 L1448.85 363.23 L1449.07 362.68 L1449.29 362.13 L1449.51 361.59 L1449.73 361.06 L1449.96 360.53 L1450.18 360.01 L1450.40 359.49 L1450.62 358.97 L1450.84 358.46 L1451.06 357.96 L1451.28 357.46 L1451.50 356.96 L1451.73 356.47 L1451.95 355.98 L1452.17 355.50 L1452.39 355.03 L1452.61 354.55 L1452.83 354.09 L1453.05 353.62 L1453.27 353.17 L1453.50 352.71 L1453.72 352.26 L1453.94 351.82 L1454.16 351.38 L1454.38 350.94 L1454.60 350.51 L1454.82 350.08 L1455.04 349.66 L1455.27 349.24 L1455.49 348.82 L1455.71 348.41 L1455.93 348.01 L1456.15 347.60 L1456.37 347.21 L1456.59 346.81 L1456.81 346.42 L1457.04 346.04 L1457.26 345.66 L1457.48 345.28 L1457.70 344.90 L1457.92 344.53 L1458.14 344.17 L1458.36 343.81 L1458.58 343.45 L1458.81 343.10 L1459.03 342.75 L1459.25 342.40 L1459.47 342.06 L1459.69 341.72 L1459.91 341.39 L1460.13 341.06 L1460.35 340.73 L1460.58 340.41 L1460.80 340.09 L1461.02 339.77 L1461.24 339.46 L1461.46 339.15 L1461.68 338.85 L1461.90 338.54 L1462.12 338.25 L1462.35 337.95 L1462.57 337.66 L1462.79 337.38 L1463.01 337.09 L1463.23 336.81 L1463.45 336.54 L1463.67 336.27 L1463.89 336.00 L1464.12 335.73 L1464.34 335.47 L1464.56 335.21 L1464.78 334.96 L1465.00 334.70 L1465.22 334.46 L1465.44 334.21 L1465.66 333.97 L1465.88 333.73 L1466.11 333.50 L1466.33 333.27 L1466.55 333.04 L1466.77 332.81 L1466.99 332.59 L1467.21 332.37 L1467.43 332.16 L1467.65 331.95 L1467.88 331.74 L1468.10 331.54 L1468.32 331.33 L1468.54 331.13 L1468.76 330.94 L1468.98 330.75 L1469.20 330.56 L1469.42 330.37 L1469.65 330.19 L1469.87 330.01 L1470.09 329.83 L1470.31 329.66 L1470.53 329.49 L1470.75 329.32 L1470.97 329.16 L1471.19 329.00 L1471.42 328.84 L1471.64 328.69 L1471.86 328.54 L1472.08 328.39 L1472.30 328.24 L1472.52 328.10 L1472.74 327.96 L1472.96 327.82 L1473.19 327.69 L1473.41 327.56 L1473.63 327.43 L1473.85 327.31 L1474.07 327.19 L1474.29 327.07 L1474.51 326.95 L1474.73 326.84 L1474.96 326.73 L1475.18 326.62 L1475.40 326.52 L1475.62 326.42 L1475.84 326.32 L1476.06 326.23 L1476.28 326.13 L1476.50 326.04 L1476.73 325.96 L1476.95 325.87 L1477.17 325.79 L1477.39 325.71 L1477.61 325.64 L1477.83 325.57 L1478.05 325.50 L1478.27 325.43 L1478.50 325.37 L1478.72 325.31 L1478.94 325.25 L1479.16 325.19 L1479.38 325.14 L1479.60 325.09 L1479.82 325.04 L1480.04 325.00 L1480.27 324.96 L1480.49 324.92 L1480.71 324.89 L1480.93 324.85 L1481.15 324.82 L1481.37 324.79 L1481.59 324.77 L1481.81 324.75 L1482.04 324.73 L1482.26 324.71 L1482.48 324.70 L1482.70 324.69 L1482.92 324.68 L1483.14 324.67 L1483.36 324.67 L1483.58 324.67 L1483.81 324.67 L1484.03 324.68 L1484.25 324.69 L1484.47 324.70 L1484.69 324.71 L1484.91 324.72 L1485.13 324.74 L1485.35 324.76 L1485.58 324.79 L1485.80 324.82 L1486.02 324.84 L1486.24 324.88 L1486.46 324.91 L1486.68 324.95 L1486.90 324.99 L1487.12 325.03 L1487.35 325.08 L1487.57 325.12 L1487.79 325.18 L1488.01 325.23 L1488.23 325.28 L1488.45 325.34 L1488.67 325.40 L1488.89 325.47 L1489.12 325.53 L1489.34 325.60 L1489.56 325.68 L1489.78 325.75 L1490.00 325.83 L1490.22 325.91 L1490.44 325.99 L1490.66 326.07 L1490.88 326.16 L1491.11 326.25 L1491.33 326.34 L1491.55 326.44 L1491.77 326.54 L1491.99 326.64 L1492.21 326.74 L1492.43 326.85 L1492.65 326.95 L1492.88 327.07 L1493.10 327.18 L1493.32 327.30 L1493.54 327.41 L1493.76 327.54 L1493.98 327.66 L1494.20 327.79 L1494.42 327.92 L1494.65 328.05 L1494.87 328.18 L1495.09 328.32 L1495.31 328.46 L1495.53 328.60 L1495.75 328.75 L1495.97 328.90 L1496.19 329.05 L1496.42 329.20 L1496.64 329.35 L1496.86 329.51 L1497.08 329.67 L1497.30 329.84 L1497.52 330.00 L1497.74 330.17 L1497.96 330.34 L1498.19 330.52 L1498.41 330.69 L1498.63 330.87 L1498.85 331.06 L1499.07 331.24 L1499.29 331.43 L1499.51 331.62 L1499.73 331.81 L1499.96 332.00 L1500.18 332.20 L1500.40 332.40 L1500.62 332.61 L1500.84 332.81 L1501.06 333.02 L1501.28 333.23 L1501.50 333.44 L1501.73 333.66 L1501.95 333.88 L1502.17 334.10 L1502.39 334.33 L1502.61 334.55 L1502.83 334.78 L1503.05 335.02 L1503.27 335.25 L1503.50 335.49 L1503.72 335.73 L1503.94 335.97 L1504.16 336.22 L1504.38 336.47 L1504.60 336.72 L1504.82 336.97 L1505.04 337.23 L1505.27 337.49 L1505.49 337.75 L1505.71 338.02 L1505.93 338.28 L1506.15 338.55 L1506.37 338.83 L1506.59 339.10 L1506.81 339.38 L1507.04 339.66 L1507.26 339.95 L1507.48 340.23 L1507.70 340.52 L1507.92 340.82 L1508.14 341.11 L1508.36 341.41 L1508.58 341.71 L1508.81 342.01 L1509.03 342.32 L1509.25 342.63 L1509.47 342.94 L1509.69 343.26 L1509.91 343.58 L1510.13 343.90 L1510.35 344.22 L1510.58 344.55 L1510.80 344.88 L1511.02 345.21 L1511.24 345.54 L1511.46 345.88 L1511.68 346.22 L1511.90 346.57 L1512.12 346.91 L1512.35 347.26 L1512.57 347.61 L1512.79 347.97 L1513.01 348.33 L1513.23 348.69 L1513.45 349.05 L1513.67 349.42 L1513.89 349.79 L1514.12 350.16 L1514.34 350.54 L1514.56 350.92 L1514.78 351.30 L1515.00 351.68 L1515.22 352.07 L1515.44 352.46 L1515.66 352.86 L1515.88 353.26 L1516.11 353.66 L1516.33 354.06 L1516.55 354.47 L1516.77 354.87 L1516.99 355.29 L1517.21 355.70 L1517.43 356.12 L1517.65 356.54 L1517.88 356.97 L1518.10 357.40 L1518.32 357.83 L1518.54 358.26 L1518.76 358.70 L1518.98 359.14 L1519.20 359.58 L1519.42 360.03 L1519.65 360.48 L1519.87 360.94 L1520.09 361.39 L1520.31 361.85 L1520.53 362.32 L1520.75 362.78 L1520.97 363.25 L1521.19 363.73 L1521.42 364.20 L1521.64 364.68 L1521.86 365.17 L1522.08 365.65 L1522.30 366.15 L1522.52 366.64 L1522.74 367.14 L1522.96 367.64 L1523.19 368.14 L1523.41 368.65 L1523.63 369.16 L1523.85 369.67 L1524.07 370.19 L1524.29 370.71 L1524.51 371.24 L1524.73 371.76 L1524.96 372.29 L1525.18 372.83 L1525.40 373.37 L1525.62 373.91 L1525.84 374.46 L1526.06 375.00 L1526.28 375.56 L1526.50 376.11 L1526.73 376.67 L1526.95 377.23 L1527.17 377.80 L1527.39 378.37 L1527.61 378.95 L1527.83 379.52 L1528.05 380.10 L1528.27 380.69 L1528.50 381.28 L1528.72 381.87 L1528.94 382.46 L1529.16 383.06 L1529.38 383.66 L1529.60 384.27 L1529.82 384.88 L1530.04 385.49 L1530.27 386.11 L1530.49 386.73 L1530.71 387.35 L1530.93 387.98 L1531.15 388.61 L1531.37 389.25 L1531.59 389.89 L1531.81 390.53 L1532.04 391.18 L1532.26 391.83 L1532.48 392.48 L1532.70 393.14 L1532.92 393.80 L1533.14 394.47 L1533.36 395.14 L1533.58 395.81 L1533.81 396.49 L1534.03 397.17 L1534.25 397.85 L1534.47 398.54 L1534.69 399.24 L1534.91 399.93 L1535.13 400.63 L1535.35 401.34 L1535.58 402.04 L1535.80 402.76 L1536.02 403.47 L1536.24 404.19 L1536.46 404.92 L1536.68 405.64 L1536.90 406.38 L1537.12 407.11 L1537.35 407.85 L1537.57 408.60 L1537.79 409.35 L1538.01 410.10 L1538.23 410.85 L1538.45 411.61 L1538.67 412.38 L1538.89 413.15 L1539.12 413.92 L1539.34 414.70 L1539.56 415.48 L1539.78 416.26 L1540.00 417.05 L1540.22 417.85 L1540.44 418.65 L1540.66 419.45 L1540.88 420.26 L1541.11 421.07 L1541.33 421.88 L1541.55 422.70 L1541.77 423.53 L1541.99 424.36 L1542.21 425.19 L1542.43 426.03 L1542.65 426.87 L1542.88 427.71 L1543.10 428.56 L1543.32 429.42 L1543.54 430.28 L1543.76 431.14 L1543.98 432.01 L1544.20 432.89 L1544.42 433.76 L1544.65 434.65 L1544.87 435.53 L1545.09 436.43 L1545.31 437.32 L1545.53 438.22 L1545.75 439.13 L1545.97 440.04 L1546.19 440.96 L1546.42 441.88 L1546.64 442.80 L1546.86 443.73 L1547.08 444.67 L1547.30 445.61 L1547.52 446.55 L1547.74 447.50 L1547.96 448.45 L1548.19 449.41 L1548.41 450.38 L1548.63 451.35 L1548.85 452.32 L1549.07 453.30 L1549.29 454.29 L1549.51 455.28 L1549.73 456.27 L1549.96 457.27 L1550.18 458.28 L1550.40 459.29 L1550.62 460.30 L1550.84 461.33 L1551.06 462.35 L1551.28 463.39 L1551.50 464.42 L1551.73 465.47 L1551.95 466.51 L1552.17 467.57 L1552.39 468.63 L1552.61 469.69 L1552.83 470.76 L1553.05 471.84 L1553.27 472.92 L1553.50 474.01 L1553.72 475.10 L1553.94 476.20 L1554.16 477.31 L1554.38 478.42 L1554.60 479.53 L1554.82 480.66 L1555.04 481.78 L1555.27 482.92 L1555.49 484.06 L1555.71 485.21 L1555.93 486.36 L1556.15 487.52 L1556.37 488.68 L1556.59 489.85 L1556.81 491.03 L1557.04 492.21 L1557.26 493.40 L1557.48 494.60 L1557.70 495.80 L1557.92 497.01 L1558.14 498.23 L1558.36 499.45 L1558.58 500.68 L1558.81 501.91 L1559.03 503.16 L1559.25 504.41 L1559.47 505.66 L1559.69 506.92 L1559.91 508.19 L1560.13 509.47 L1560.35 510.75 L1560.58 512.04 L1560.80 513.34 L1561.02 514.65 L1561.24 515.96 L1561.46 517.28 L1561.68 518.60 L1561.90 519.94 L1562.12 521.28 L1562.35 522.63 L1562.57 523.98 L1562.79 525.35 L1563.01 526.72 L1563.23 528.10 L1563.45 529.49 L1563.67 530.88 L1563.89 532.28 L1564.12 533.69 L1564.34 535.11 L1564.56 536.54 L1564.78 537.97 L1565.00 539.42 L1565.22 540.87 L1565.44 542.33 L1565.66 543.80 L1565.88 545.27 L1566.11 546.76 L1566.33 548.25 L1566.55 549.76 L1566.77 551.27 L1566.99 552.79 L1567.21 554.32 L1567.43 555.86 L1567.65 557.41 L1567.88 558.97 L1568.10 560.53 L1568.32 562.11 L1568.54 563.70 L1568.76 565.30 L1568.98 566.90 L1569.20 568.52 L1569.42 570.15 L1569.65 571.79 L1569.87 573.43 L1570.09 575.09 L1570.31 576.76 L1570.53 578.45 L1570.75 580.14 L1570.97 581.84 L1571.19 583.56 L1571.42 585.28 L1571.64 587.02 L1571.86 588.77 L1572.08 590.53 L1572.30 592.31 L1572.52 594.09 L1572.74 595.89 L1572.96 597.70 L1573.19 599.53 L1573.41 601.37 L1573.63 603.22 L1573.85 605.08 L1574.07 606.96 L1574.29 608.85 L1574.51 610.76 L1574.73 612.68 L1574.96 614.61 L1575.18 616.56 L1575.40 618.53 L1575.62 620.51 L1575.84 622.50 L1576.06 624.51 L1576.28 626.54 L1576.50 628.58 L1576.73 630.64 L1576.95 632.72 L1577.17 634.81 L1577.39 636.92 L1577.61 639.04 L1577.83 641.19 L1578.05 643.35 L1578.27 645.53 L1578.50 647.73 L1578.72 649.95 L1578.94 652.19 L1579.16 654.45 L1579.38 656.72 L1579.60 659.02 L1579.82 661.34 L1580.04 663.68 L1580.27 666.04 L1580.49 668.42 L1580.71 670.83 L1580.93 673.26 L1581.15 675.71 L1581.37 678.18 L1581.59 680.68 L1581.81 683.21 L1582.04 685.75 L1582.26 688.33 L1582.48 690.93 L1582.70 693.55 L1582.92 696.21 L1583.14 698.89 L1583.36 701.60 L1583.58 704.34 L1583.81 707.11 L1584.03 709.90 L1584.25 712.73 L1584.47 715.59 L1584.69 718.49 L1584.91 721.41 L1585.13 724.37 L1585.35 727.37 L1585.58 730.40 L1585.80 733.46 L1586.02 736.57 L1586.24 739.71 L1586.46 742.89 L1586.68 746.11 L1586.90 749.37 L1587.12 752.67 L1587.35 756.02 L1587.57 759.41"/>
<path d="M1621.42 758.44 L1621.64 755.56 L1621.86 752.71 L1622.08 749.90 L1622.30 747.12 L1622.52 744.39 L1622.74 741.68 L1622.96 739.01 L1623.19 736.37 L1623.41 733.77 L1623.63 731.19 L1623.85 728.65 L1624.07 726.14 L1624.29 723.65 L1624.51 721.20 L1624.73 718.77 L1624.96 716.37 L1625.18 714.00 L1625.40 711.66 L1625.62 709.34 L1625.84 707.04 L1626.06 704.78 L1626.28 702.53 L1626.50 700.31 L1626.73 698.12 L1626.95 695.94 L1627.17 693.79 L1627.39 691.66 L1627.61 689.56 L1627.83 687.47 L1628.05 685.41 L1628.27 683.37 L1628.50 681.35 L1628.72 679.34 L1628.94 677.36 L1629.16 675.40 L1629.38 673.45 L1629.60 671.53 L1629.82 669.62 L1630.04 667.73 L1630.27 665.86 L1630.49 664.01 L1630.71 662.17 L1630.93 660.35"/>
</g>
<path d="M172.45 484.50 L181.30 478.30 M189.70 480.20 L192.90 470.40 M195.70 453.30 L201.60 444.50 M203.00 427.00 L209.00 421.50 L210.00 419.70 M211.30 401.70 L215.00 392.00 M217.00 375.00 L220.00 365.30 M221.70 348.30 L225.30 338.30 M229.20 321.70 L233.00 311.70 M236.30 295.00 L240.80 284.70 M245.80 268.30 L250.30 259.70 M257.00 242.50 L261.70 235.80 M271.70 220.80 L278.30 213.30 M294.00 206.50 L299.40 202.56 L302.40 203.20 M309.70 218.30 L314.20 228.30 M320.80 244.20 L327.50 252.50 M333.70 267.50 L338.30 277.50 M342.50 294.20 L346.30 303.70 M349.20 320.80 L352.50 330.80 M357.50 346.00 L360.80 356.00 M363.10 373.10 L365.47 379.42 L369.00 378.00 M374.00 379.00 L378.50 386.00 M391.00 403.30 L392.50 404.00 L399.50 397.40 M403.00 380.80 L409.40 371.80 M414.50 355.50 L422.20 347.80 M423.50 330.00 L426.00 320.80 M433.50 308.70 L437.70 298.80 M438.70 280.80 L441.50 271.50 M442.50 253.70 L446.50 245.00 M453.00 228.00 L460.00 220.00 M468.90 207.00 L474.50 198.30 M480.00 182.50 L486.70 173.30 M495.80 160.80 L503.00 152.50 M512.30 148.60 L516.22 147.63 L520.50 151.90 M524.70 168.30 L529.20 178.30 M532.50 195.00 L536.30 205.00 M538.30 222.00 L541.70 231.70 M544.20 249.20 L547.50 258.30 M553.30 275.00 L557.50 283.80 M566.70 276.30 L570.80 275.00 L573.30 267.50 M580.00 253.30 L583.30 248.30 L584.20 244.20 M585.00 226.70 L587.50 216.70 M593.30 202.50 L598.00 198.00 L601.70 195.30 M605.80 178.30 L615.00 173.30 M620.00 156.70 L623.30 146.70 M626.30 130.00 L630.00 120.00 M633.00 103.30 L635.30 95.80 L638.30 95.00 M645.80 79.20 L654.20 71.70 M663.00 56.00 L668.00 59.70 L672.00 57.50 M683.30 49.70 L691.70 45.00 M705.30 35.00 L709.20 32.00 L714.70 33.30 M732.00 35.80 L742.50 35.80 M759.70 36.30 L770.00 35.00 M786.70 33.00 L796.70 29.70 M813.30 26.30 L823.30 23.30 M869.00 22.00 L879.00 22.60 M895.80 22.70 L905.80 22.30 M1010.80 22.00 L1019.20 22.60 M1036.70 22.30 L1045.00 22.10 M1191.70 22.40 L1199.20 24.20 M1215.80 29.20 L1225.80 31.70 M1240.80 31.80 L1246.70 34.00 L1251.20 33.50 M1266.00 30.30 L1268.00 34.60 L1274.60 34.00 M1282.50 50.80 L1287.00 60.00 M1295.80 74.20 L1300.80 80.00 L1303.70 80.80 M1310.00 95.80 L1313.30 105.80 M1321.70 120.00 L1326.70 129.20 M1332.50 144.20 L1336.70 153.30 M1353.00 192.50 L1356.70 202.50 M1361.30 218.00 L1366.30 227.50 M1374.20 240.80 L1380.80 245.80 L1381.70 249.20 M1388.30 257.50 L1393.30 249.20 M1403.70 244.20 L1407.50 235.00 M1412.00 219.20 L1415.80 210.00 M1419.20 193.30 L1426.70 189.20 M1439.20 174.20 L1446.00 172.90 M1459.40 182.00 L1467.00 189.00 M1484.20 191.70 L1489.20 197.50 M1494.20 215.80 L1500.00 225.00 M1517.60 259.40 L1520.40 269.90 M1526.00 276.80 L1530.80 274.00 L1535.00 277.50 M1544.00 271.20 L1548.88 270.23 L1548.50 275.20 M1560.70 274.00 L1565.60 273.00 L1566.70 267.00 M1576.70 267.80 L1580.80 274.00 L1584.30 273.30 M1594.00 259.40 L1596.80 249.70 M1605.80 253.90 L1608.60 263.60 M1617.60 270.60 L1621.80 280.30 M1635.70 275.40 L1643.30 267.80 M1648.90 285.80 L1650.15 288.34 L1654.40 281.00 M1660.30 264.30 L1664.90 254.60 M1676.00 250.40 L1680.80 258.80 M1685.00 253.90 L1686.80 250.84 L1689.90 258.00 M1699.30 248.70 L1701.70 260.80 M1706.50 257.10 L1712.00 255.30 L1714.00 251.00 M1721.20 242.30 L1724.74 248.57 L1726.20 245.20 M1728.20 229.60 L1732.20 234.20 L1737.70 232.80 M1745.00 221.00 L1749.10 230.20 M1758.30 217.20 L1761.18 215.06 L1764.90 219.90 M1771.20 211.10 L1774.60 213.10 L1777.50 218.90 M1787.40 217.60 L1790.10 215.20 L1794.50 216.20 L1796.50 218.70 M1804.70 232.50 L1810.10 230.10 L1812.70 227.60 M1818.30 236.90 L1822.20 245.60 M1825.60 232.00 L1827.30 222.80 M1836.80 225.70 L1840.40 228.50" fill="none" stroke="#000" stroke-width="4.40" stroke-linejoin="miter" stroke-miterlimit="10"/>
</g>
<path d="M1015 512.3 H1147.7" stroke="#000" stroke-width="3.35"/>
<path d="M1015 549.5 H1147.7" stroke="#000" stroke-width="3.15" stroke-dasharray="10.6 16.9"/>
<g style="font-family:'Liberation Serif',serif;font-size:37.30px;fill:#000" opacity="0.999">
<text x="172.65" y="779" text-anchor="middle">8</text>
<text x="381.14" y="779" text-anchor="middle">8.5</text>
<text x="589.64" y="779" text-anchor="middle">9</text>
<text x="798.13" y="779" text-anchor="middle">9.5</text>
<text x="1006.62" y="779" text-anchor="middle">10</text>
<text x="1215.12" y="779" text-anchor="middle">10.5</text>
<text x="1423.61" y="779" text-anchor="middle">11</text>
<text x="1632.11" y="779" text-anchor="middle">11.5</text>
<text x="1841.20" y="779" text-anchor="middle">12</text>
<text x="145.4" y="33.35" text-anchor="end">0</text>
<text x="145.4" y="173.60" text-anchor="end">-5</text>
<text x="145.4" y="313.85" text-anchor="end">-10</text>
<text x="145.4" y="454.10" text-anchor="end">-15</text>
<text x="145.4" y="594.35" text-anchor="end">-20</text>
<text x="145.4" y="734.60" text-anchor="end">-25</text>
<text x="1007.5" y="832.5" text-anchor="middle">Частота, ГГц</text>
<text transform="translate(54 372.5) rotate(-90)" text-anchor="middle">Коэффициент отражения, dB</text>
<text x="1004" y="519.6" text-anchor="end">модель</text>
<text x="1001" y="556" text-anchor="end">эксперимент</text>
</g>
</svg>
</body></html>
